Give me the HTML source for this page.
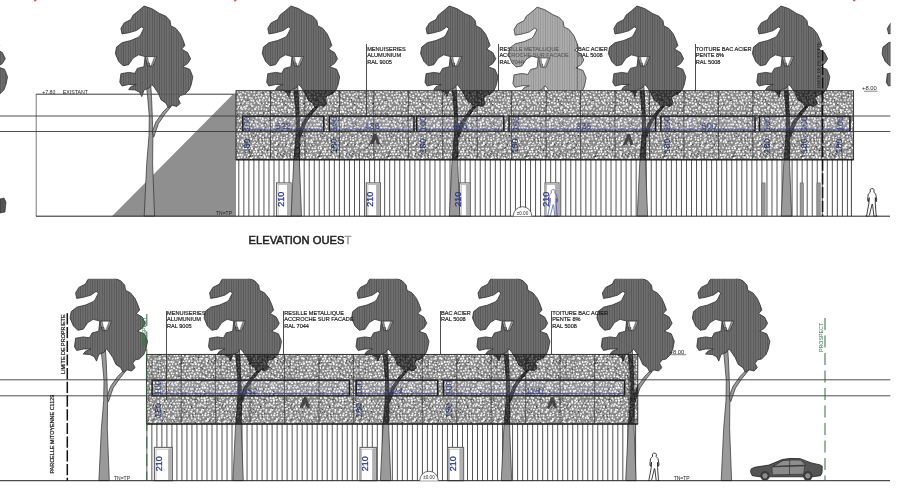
<!DOCTYPE html><html><head><meta charset="utf-8"><title>Elevations</title>
<style>html,body{margin:0;padding:0;background:#fff}body{width:900px;height:500px;overflow:hidden}svg{display:block}text{font-family:"Liberation Sans",sans-serif}</style></head><body>
<svg width="900" height="500" viewBox="0 0 900 500">
<defs>
<pattern id="hd" width="2.4" height="8" patternUnits="userSpaceOnUse"><rect width="2.4" height="8" fill="#6e6e6e"/><rect width="0.8" height="8" fill="#565656"/></pattern>
<pattern id="hl" width="2.4" height="8" patternUnits="userSpaceOnUse"><rect width="2.4" height="8" fill="#acacac"/><rect width="0.8" height="8" fill="#949494"/></pattern>
<pattern id="wall" width="3.85" height="8" patternUnits="userSpaceOnUse"><rect width="3.85" height="8" fill="#fbfbfb"/><rect x="0" width="0.9" height="8" fill="#8a8a8a"/></pattern>
<pattern id="mesh" width="69.0" height="69.0" patternUnits="userSpaceOnUse">
<rect width="69.0" height="69.0" fill="#8a8a8a"/>
<ellipse cx="1.2" cy="0.9" rx="1.14" ry="0.73" transform="rotate(137 1.2 0.9)" fill="#ffffff"/>
<ellipse cx="1.2" cy="69.9" rx="1.14" ry="0.73" transform="rotate(137 1.2 69.9)" fill="#ffffff"/>
<ellipse cx="70.2" cy="0.9" rx="1.14" ry="0.73" transform="rotate(137 70.2 0.9)" fill="#ffffff"/>
<ellipse cx="70.2" cy="69.9" rx="1.14" ry="0.73" transform="rotate(137 70.2 69.9)" fill="#ffffff"/>
<ellipse cx="2.8" cy="3.7" rx="1.08" ry="0.71" transform="rotate(111 2.8 3.7)" fill="#dcdcdc"/>
<ellipse cx="0.7" cy="6.8" rx="1.04" ry="1.03" transform="rotate(31 0.7 6.8)" fill="#ffffff"/>
<ellipse cx="69.7" cy="6.8" rx="1.04" ry="1.03" transform="rotate(31 69.7 6.8)" fill="#ffffff"/>
<ellipse cx="3.2" cy="10.6" rx="0.88" ry="0.93" transform="rotate(12 3.2 10.6)" fill="#ffffff"/>
<ellipse cx="0.7" cy="14.1" rx="0.98" ry="0.76" transform="rotate(30 0.7 14.1)" fill="#f0f0f0"/>
<ellipse cx="69.7" cy="14.1" rx="0.98" ry="0.76" transform="rotate(30 69.7 14.1)" fill="#f0f0f0"/>
<ellipse cx="3.1" cy="16.8" rx="0.90" ry="0.93" transform="rotate(48 3.1 16.8)" fill="#f0f0f0"/>
<ellipse cx="0.8" cy="19.9" rx="1.10" ry="0.95" transform="rotate(127 0.8 19.9)" fill="#dcdcdc"/>
<ellipse cx="69.8" cy="19.9" rx="1.10" ry="0.95" transform="rotate(127 69.8 19.9)" fill="#dcdcdc"/>
<ellipse cx="3.5" cy="22.4" rx="1.27" ry="0.84" transform="rotate(63 3.5 22.4)" fill="#ffffff"/>
<ellipse cx="1.9" cy="25.0" rx="1.11" ry="0.91" transform="rotate(87 1.9 25.0)" fill="#dcdcdc"/>
<ellipse cx="2.6" cy="29.4" rx="0.90" ry="0.87" transform="rotate(87 2.6 29.4)" fill="#ffffff"/>
<ellipse cx="2.3" cy="31.4" rx="1.28" ry="0.73" transform="rotate(142 2.3 31.4)" fill="#f0f0f0"/>
<ellipse cx="2.7" cy="34.2" rx="1.07" ry="1.02" transform="rotate(17 2.7 34.2)" fill="#ffffff"/>
<ellipse cx="2.3" cy="37.5" rx="1.15" ry="0.72" transform="rotate(179 2.3 37.5)" fill="#f0f0f0"/>
<ellipse cx="3.3" cy="41.4" rx="1.22" ry="0.81" transform="rotate(98 3.3 41.4)" fill="#f0f0f0"/>
<ellipse cx="0.6" cy="43.4" rx="0.93" ry="0.75" transform="rotate(15 0.6 43.4)" fill="#ffffff"/>
<ellipse cx="69.6" cy="43.4" rx="0.93" ry="0.75" transform="rotate(15 69.6 43.4)" fill="#ffffff"/>
<ellipse cx="3.5" cy="45.8" rx="0.96" ry="0.86" transform="rotate(127 3.5 45.8)" fill="#ffffff"/>
<ellipse cx="0.9" cy="49.3" rx="0.98" ry="0.75" transform="rotate(110 0.9 49.3)" fill="#f0f0f0"/>
<ellipse cx="69.9" cy="49.3" rx="0.98" ry="0.75" transform="rotate(110 69.9 49.3)" fill="#f0f0f0"/>
<ellipse cx="3.4" cy="53.4" rx="1.16" ry="0.85" transform="rotate(59 3.4 53.4)" fill="#ffffff"/>
<ellipse cx="0.7" cy="54.9" rx="1.15" ry="0.70" transform="rotate(150 0.7 54.9)" fill="#ffffff"/>
<ellipse cx="69.7" cy="54.9" rx="1.15" ry="0.70" transform="rotate(150 69.7 54.9)" fill="#ffffff"/>
<ellipse cx="2.6" cy="57.6" rx="1.04" ry="0.85" transform="rotate(144 2.6 57.6)" fill="#f0f0f0"/>
<ellipse cx="2.3" cy="61.8" rx="1.08" ry="0.95" transform="rotate(173 2.3 61.8)" fill="#ffffff"/>
<ellipse cx="2.9" cy="65.2" rx="1.28" ry="0.97" transform="rotate(143 2.9 65.2)" fill="#dcdcdc"/>
<ellipse cx="1.3" cy="67.3" rx="1.07" ry="0.86" transform="rotate(48 1.3 67.3)" fill="#ffffff"/>
<ellipse cx="70.3" cy="67.3" rx="1.07" ry="0.86" transform="rotate(48 70.3 67.3)" fill="#ffffff"/>
<ellipse cx="5.4" cy="1.4" rx="0.90" ry="0.94" transform="rotate(26 5.4 1.4)" fill="#ffffff"/>
<ellipse cx="5.4" cy="70.4" rx="0.90" ry="0.94" transform="rotate(26 5.4 70.4)" fill="#ffffff"/>
<ellipse cx="6.1" cy="4.6" rx="1.28" ry="0.95" transform="rotate(18 6.1 4.6)" fill="#ffffff"/>
<ellipse cx="4.7" cy="6.9" rx="0.96" ry="0.84" transform="rotate(93 4.7 6.9)" fill="#dcdcdc"/>
<ellipse cx="5.3" cy="11.1" rx="1.30" ry="0.89" transform="rotate(123 5.3 11.1)" fill="#f0f0f0"/>
<ellipse cx="3.8" cy="12.8" rx="1.00" ry="0.81" transform="rotate(177 3.8 12.8)" fill="#ffffff"/>
<ellipse cx="6.0" cy="16.0" rx="1.28" ry="0.84" transform="rotate(176 6.0 16.0)" fill="#ffffff"/>
<ellipse cx="5.0" cy="19.1" rx="1.14" ry="0.74" transform="rotate(66 5.0 19.1)" fill="#f0f0f0"/>
<ellipse cx="6.7" cy="22.2" rx="0.95" ry="0.92" transform="rotate(128 6.7 22.2)" fill="#f0f0f0"/>
<ellipse cx="4.7" cy="25.7" rx="1.20" ry="1.00" transform="rotate(49 4.7 25.7)" fill="#ffffff"/>
<ellipse cx="6.6" cy="28.9" rx="0.95" ry="0.91" transform="rotate(91 6.6 28.9)" fill="#ffffff"/>
<ellipse cx="5.4" cy="32.0" rx="1.06" ry="0.78" transform="rotate(154 5.4 32.0)" fill="#f0f0f0"/>
<ellipse cx="5.9" cy="35.3" rx="1.29" ry="1.08" transform="rotate(93 5.9 35.3)" fill="#ffffff"/>
<ellipse cx="4.0" cy="37.0" rx="0.94" ry="0.78" transform="rotate(159 4.0 37.0)" fill="#ffffff"/>
<ellipse cx="6.0" cy="40.8" rx="1.21" ry="0.73" transform="rotate(169 6.0 40.8)" fill="#ffffff"/>
<ellipse cx="5.2" cy="44.0" rx="1.19" ry="0.89" transform="rotate(45 5.2 44.0)" fill="#dcdcdc"/>
<ellipse cx="6.5" cy="46.2" rx="1.21" ry="1.09" transform="rotate(101 6.5 46.2)" fill="#dcdcdc"/>
<ellipse cx="4.3" cy="50.3" rx="1.18" ry="0.77" transform="rotate(32 4.3 50.3)" fill="#ffffff"/>
<ellipse cx="5.4" cy="53.2" rx="1.21" ry="0.76" transform="rotate(152 5.4 53.2)" fill="#dcdcdc"/>
<ellipse cx="4.8" cy="55.2" rx="1.10" ry="0.75" transform="rotate(3 4.8 55.2)" fill="#ffffff"/>
<ellipse cx="6.0" cy="59.3" rx="1.05" ry="1.05" transform="rotate(54 6.0 59.3)" fill="#ffffff"/>
<ellipse cx="4.1" cy="61.1" rx="0.96" ry="0.93" transform="rotate(66 4.1 61.1)" fill="#dcdcdc"/>
<ellipse cx="6.6" cy="63.7" rx="1.18" ry="1.06" transform="rotate(169 6.6 63.7)" fill="#dcdcdc"/>
<ellipse cx="5.1" cy="68.2" rx="0.91" ry="0.76" transform="rotate(130 5.1 68.2)" fill="#ffffff"/>
<ellipse cx="5.1" cy="-0.8" rx="0.91" ry="0.76" transform="rotate(130 5.1 -0.8)" fill="#ffffff"/>
<ellipse cx="8.2" cy="2.0" rx="1.12" ry="1.01" transform="rotate(38 8.2 2.0)" fill="#ffffff"/>
<ellipse cx="8.4" cy="4.7" rx="0.90" ry="0.72" transform="rotate(174 8.4 4.7)" fill="#dcdcdc"/>
<ellipse cx="8.0" cy="6.8" rx="1.10" ry="0.80" transform="rotate(70 8.0 6.8)" fill="#ffffff"/>
<ellipse cx="9.5" cy="10.5" rx="1.10" ry="1.00" transform="rotate(16 9.5 10.5)" fill="#dcdcdc"/>
<ellipse cx="7.2" cy="14.4" rx="1.12" ry="0.78" transform="rotate(70 7.2 14.4)" fill="#dcdcdc"/>
<ellipse cx="9.0" cy="17.1" rx="1.08" ry="0.80" transform="rotate(133 9.0 17.1)" fill="#f0f0f0"/>
<ellipse cx="8.3" cy="20.2" rx="0.94" ry="0.88" transform="rotate(106 8.3 20.2)" fill="#ffffff"/>
<ellipse cx="8.8" cy="22.2" rx="1.15" ry="0.87" transform="rotate(54 8.8 22.2)" fill="#f0f0f0"/>
<ellipse cx="8.0" cy="26.2" rx="0.92" ry="0.99" transform="rotate(169 8.0 26.2)" fill="#f0f0f0"/>
<ellipse cx="8.4" cy="29.2" rx="1.29" ry="0.79" transform="rotate(24 8.4 29.2)" fill="#dcdcdc"/>
<ellipse cx="8.2" cy="30.9" rx="1.15" ry="0.79" transform="rotate(180 8.2 30.9)" fill="#dcdcdc"/>
<ellipse cx="9.9" cy="34.3" rx="1.04" ry="0.84" transform="rotate(23 9.9 34.3)" fill="#f0f0f0"/>
<ellipse cx="6.6" cy="37.6" rx="1.05" ry="0.71" transform="rotate(84 6.6 37.6)" fill="#f0f0f0"/>
<ellipse cx="9.0" cy="39.7" rx="1.29" ry="1.02" transform="rotate(26 9.0 39.7)" fill="#ffffff"/>
<ellipse cx="7.1" cy="42.7" rx="1.20" ry="0.81" transform="rotate(33 7.1 42.7)" fill="#dcdcdc"/>
<ellipse cx="9.6" cy="46.8" rx="1.28" ry="0.86" transform="rotate(137 9.6 46.8)" fill="#dcdcdc"/>
<ellipse cx="7.9" cy="48.8" rx="0.88" ry="0.98" transform="rotate(108 7.9 48.8)" fill="#ffffff"/>
<ellipse cx="8.6" cy="51.6" rx="0.89" ry="0.80" transform="rotate(155 8.6 51.6)" fill="#ffffff"/>
<ellipse cx="6.7" cy="56.2" rx="1.05" ry="0.84" transform="rotate(141 6.7 56.2)" fill="#dcdcdc"/>
<ellipse cx="9.8" cy="58.1" rx="0.91" ry="0.91" transform="rotate(61 9.8 58.1)" fill="#ffffff"/>
<ellipse cx="8.3" cy="61.1" rx="0.93" ry="1.07" transform="rotate(160 8.3 61.1)" fill="#f0f0f0"/>
<ellipse cx="9.1" cy="64.0" rx="1.05" ry="0.97" transform="rotate(69 9.1 64.0)" fill="#f0f0f0"/>
<ellipse cx="8.0" cy="68.4" rx="0.87" ry="0.71" transform="rotate(129 8.0 68.4)" fill="#ffffff"/>
<ellipse cx="8.0" cy="-0.6" rx="0.87" ry="0.71" transform="rotate(129 8.0 -0.6)" fill="#ffffff"/>
<ellipse cx="10.5" cy="1.0" rx="1.05" ry="0.96" transform="rotate(166 10.5 1.0)" fill="#dcdcdc"/>
<ellipse cx="10.5" cy="70.0" rx="1.05" ry="0.96" transform="rotate(166 10.5 70.0)" fill="#dcdcdc"/>
<ellipse cx="12.3" cy="4.6" rx="1.25" ry="1.09" transform="rotate(78 12.3 4.6)" fill="#ffffff"/>
<ellipse cx="11.4" cy="7.2" rx="1.22" ry="0.98" transform="rotate(162 11.4 7.2)" fill="#ffffff"/>
<ellipse cx="11.8" cy="10.2" rx="0.87" ry="0.75" transform="rotate(18 11.8 10.2)" fill="#f0f0f0"/>
<ellipse cx="10.4" cy="12.7" rx="1.15" ry="0.85" transform="rotate(129 10.4 12.7)" fill="#f0f0f0"/>
<ellipse cx="12.2" cy="16.8" rx="0.87" ry="0.77" transform="rotate(68 12.2 16.8)" fill="#dcdcdc"/>
<ellipse cx="9.6" cy="19.3" rx="1.00" ry="1.09" transform="rotate(82 9.6 19.3)" fill="#ffffff"/>
<ellipse cx="11.2" cy="23.2" rx="0.95" ry="0.77" transform="rotate(85 11.2 23.2)" fill="#dcdcdc"/>
<ellipse cx="9.8" cy="25.1" rx="1.15" ry="0.80" transform="rotate(1 9.8 25.1)" fill="#ffffff"/>
<ellipse cx="11.6" cy="27.8" rx="1.03" ry="0.72" transform="rotate(5 11.6 27.8)" fill="#f0f0f0"/>
<ellipse cx="10.1" cy="31.0" rx="1.11" ry="0.91" transform="rotate(39 10.1 31.0)" fill="#dcdcdc"/>
<ellipse cx="12.5" cy="34.9" rx="1.07" ry="0.81" transform="rotate(158 12.5 34.9)" fill="#ffffff"/>
<ellipse cx="9.7" cy="38.1" rx="1.25" ry="0.95" transform="rotate(179 9.7 38.1)" fill="#ffffff"/>
<ellipse cx="12.7" cy="41.0" rx="1.11" ry="1.03" transform="rotate(4 12.7 41.0)" fill="#ffffff"/>
<ellipse cx="9.8" cy="42.7" rx="1.14" ry="1.08" transform="rotate(96 9.8 42.7)" fill="#dcdcdc"/>
<ellipse cx="12.1" cy="46.7" rx="1.13" ry="0.97" transform="rotate(125 12.1 46.7)" fill="#f0f0f0"/>
<ellipse cx="9.6" cy="50.0" rx="1.19" ry="0.90" transform="rotate(137 9.6 50.0)" fill="#ffffff"/>
<ellipse cx="12.3" cy="51.7" rx="1.18" ry="0.80" transform="rotate(19 12.3 51.7)" fill="#f0f0f0"/>
<ellipse cx="10.0" cy="56.0" rx="0.95" ry="0.96" transform="rotate(117 10.0 56.0)" fill="#dcdcdc"/>
<ellipse cx="12.6" cy="57.7" rx="1.26" ry="0.81" transform="rotate(11 12.6 57.7)" fill="#ffffff"/>
<ellipse cx="9.7" cy="60.9" rx="0.96" ry="1.00" transform="rotate(77 9.7 60.9)" fill="#ffffff"/>
<ellipse cx="11.1" cy="63.7" rx="0.97" ry="0.97" transform="rotate(177 11.1 63.7)" fill="#ffffff"/>
<ellipse cx="10.8" cy="67.1" rx="1.08" ry="0.89" transform="rotate(119 10.8 67.1)" fill="#ffffff"/>
<ellipse cx="14.4" cy="1.6" rx="0.99" ry="0.73" transform="rotate(121 14.4 1.6)" fill="#ffffff"/>
<ellipse cx="14.6" cy="3.7" rx="1.08" ry="1.10" transform="rotate(68 14.6 3.7)" fill="#dcdcdc"/>
<ellipse cx="13.0" cy="8.3" rx="0.94" ry="0.93" transform="rotate(36 13.0 8.3)" fill="#f0f0f0"/>
<ellipse cx="15.8" cy="9.8" rx="1.22" ry="0.90" transform="rotate(28 15.8 9.8)" fill="#f0f0f0"/>
<ellipse cx="13.0" cy="14.2" rx="1.07" ry="0.71" transform="rotate(0 13.0 14.2)" fill="#dcdcdc"/>
<ellipse cx="15.3" cy="16.3" rx="1.18" ry="0.87" transform="rotate(96 15.3 16.3)" fill="#f0f0f0"/>
<ellipse cx="12.8" cy="19.2" rx="1.00" ry="0.84" transform="rotate(101 12.8 19.2)" fill="#ffffff"/>
<ellipse cx="15.8" cy="22.0" rx="0.86" ry="1.00" transform="rotate(64 15.8 22.0)" fill="#f0f0f0"/>
<ellipse cx="12.7" cy="25.3" rx="1.24" ry="0.73" transform="rotate(109 12.7 25.3)" fill="#f0f0f0"/>
<ellipse cx="15.6" cy="28.1" rx="0.87" ry="0.96" transform="rotate(162 15.6 28.1)" fill="#ffffff"/>
<ellipse cx="13.0" cy="31.1" rx="1.08" ry="0.78" transform="rotate(95 13.0 31.1)" fill="#dcdcdc"/>
<ellipse cx="15.7" cy="35.1" rx="1.13" ry="1.07" transform="rotate(141 15.7 35.1)" fill="#ffffff"/>
<ellipse cx="13.9" cy="36.7" rx="1.18" ry="0.88" transform="rotate(35 13.9 36.7)" fill="#f0f0f0"/>
<ellipse cx="15.0" cy="41.2" rx="1.10" ry="0.77" transform="rotate(106 15.0 41.2)" fill="#f0f0f0"/>
<ellipse cx="13.1" cy="43.1" rx="1.18" ry="0.96" transform="rotate(103 13.1 43.1)" fill="#ffffff"/>
<ellipse cx="14.6" cy="46.6" rx="1.03" ry="0.77" transform="rotate(41 14.6 46.6)" fill="#ffffff"/>
<ellipse cx="13.0" cy="50.2" rx="1.07" ry="0.79" transform="rotate(85 13.0 50.2)" fill="#dcdcdc"/>
<ellipse cx="14.9" cy="52.6" rx="0.96" ry="0.77" transform="rotate(142 14.9 52.6)" fill="#ffffff"/>
<ellipse cx="13.2" cy="55.3" rx="1.21" ry="0.78" transform="rotate(5 13.2 55.3)" fill="#dcdcdc"/>
<ellipse cx="14.8" cy="58.9" rx="0.94" ry="0.81" transform="rotate(15 14.8 58.9)" fill="#dcdcdc"/>
<ellipse cx="13.1" cy="62.3" rx="0.91" ry="0.90" transform="rotate(161 13.1 62.3)" fill="#ffffff"/>
<ellipse cx="14.3" cy="65.2" rx="1.02" ry="0.96" transform="rotate(110 14.3 65.2)" fill="#f0f0f0"/>
<ellipse cx="14.1" cy="68.2" rx="0.86" ry="0.71" transform="rotate(121 14.1 68.2)" fill="#dcdcdc"/>
<ellipse cx="14.1" cy="-0.8" rx="0.86" ry="0.71" transform="rotate(121 14.1 -0.8)" fill="#dcdcdc"/>
<ellipse cx="15.6" cy="1.3" rx="1.27" ry="1.03" transform="rotate(119 15.6 1.3)" fill="#dcdcdc"/>
<ellipse cx="15.6" cy="70.3" rx="1.27" ry="1.03" transform="rotate(119 15.6 70.3)" fill="#dcdcdc"/>
<ellipse cx="17.5" cy="3.8" rx="0.92" ry="0.91" transform="rotate(174 17.5 3.8)" fill="#ffffff"/>
<ellipse cx="17.3" cy="7.9" rx="1.14" ry="1.01" transform="rotate(117 17.3 7.9)" fill="#ffffff"/>
<ellipse cx="18.1" cy="9.7" rx="1.20" ry="0.79" transform="rotate(9 18.1 9.7)" fill="#f0f0f0"/>
<ellipse cx="17.3" cy="13.7" rx="1.09" ry="0.87" transform="rotate(28 17.3 13.7)" fill="#ffffff"/>
<ellipse cx="17.2" cy="16.5" rx="1.11" ry="0.86" transform="rotate(57 17.2 16.5)" fill="#ffffff"/>
<ellipse cx="15.6" cy="19.1" rx="1.06" ry="1.08" transform="rotate(165 15.6 19.1)" fill="#ffffff"/>
<ellipse cx="18.0" cy="22.0" rx="0.96" ry="1.08" transform="rotate(180 18.0 22.0)" fill="#f0f0f0"/>
<ellipse cx="15.7" cy="24.9" rx="1.25" ry="0.96" transform="rotate(20 15.7 24.9)" fill="#f0f0f0"/>
<ellipse cx="17.5" cy="28.4" rx="1.02" ry="0.90" transform="rotate(178 17.5 28.4)" fill="#f0f0f0"/>
<ellipse cx="16.9" cy="31.3" rx="1.03" ry="0.70" transform="rotate(74 16.9 31.3)" fill="#ffffff"/>
<ellipse cx="17.5" cy="35.3" rx="0.99" ry="1.03" transform="rotate(59 17.5 35.3)" fill="#dcdcdc"/>
<ellipse cx="16.0" cy="38.0" rx="0.98" ry="1.08" transform="rotate(126 16.0 38.0)" fill="#ffffff"/>
<ellipse cx="18.7" cy="40.5" rx="1.26" ry="0.72" transform="rotate(152 18.7 40.5)" fill="#ffffff"/>
<ellipse cx="17.3" cy="42.7" rx="0.86" ry="0.94" transform="rotate(106 17.3 42.7)" fill="#ffffff"/>
<ellipse cx="18.4" cy="45.9" rx="1.05" ry="0.98" transform="rotate(80 18.4 45.9)" fill="#ffffff"/>
<ellipse cx="17.4" cy="50.3" rx="1.00" ry="0.77" transform="rotate(134 17.4 50.3)" fill="#dcdcdc"/>
<ellipse cx="17.2" cy="52.8" rx="1.02" ry="0.85" transform="rotate(84 17.2 52.8)" fill="#dcdcdc"/>
<ellipse cx="15.9" cy="54.6" rx="0.98" ry="0.84" transform="rotate(31 15.9 54.6)" fill="#ffffff"/>
<ellipse cx="17.8" cy="59.0" rx="0.99" ry="1.02" transform="rotate(22 17.8 59.0)" fill="#ffffff"/>
<ellipse cx="16.9" cy="61.0" rx="1.09" ry="0.88" transform="rotate(82 16.9 61.0)" fill="#f0f0f0"/>
<ellipse cx="18.4" cy="64.5" rx="1.13" ry="0.80" transform="rotate(160 18.4 64.5)" fill="#dcdcdc"/>
<ellipse cx="15.7" cy="66.7" rx="0.88" ry="1.07" transform="rotate(65 15.7 66.7)" fill="#ffffff"/>
<ellipse cx="19.9" cy="2.2" rx="1.00" ry="0.81" transform="rotate(157 19.9 2.2)" fill="#ffffff"/>
<ellipse cx="20.6" cy="4.9" rx="0.99" ry="0.81" transform="rotate(0 20.6 4.9)" fill="#ffffff"/>
<ellipse cx="18.6" cy="7.0" rx="1.06" ry="1.08" transform="rotate(98 18.6 7.0)" fill="#f0f0f0"/>
<ellipse cx="21.7" cy="11.1" rx="0.91" ry="0.90" transform="rotate(2 21.7 11.1)" fill="#f0f0f0"/>
<ellipse cx="20.1" cy="14.0" rx="1.12" ry="0.83" transform="rotate(81 20.1 14.0)" fill="#dcdcdc"/>
<ellipse cx="20.8" cy="17.0" rx="0.89" ry="0.78" transform="rotate(40 20.8 17.0)" fill="#ffffff"/>
<ellipse cx="19.3" cy="19.8" rx="1.07" ry="0.92" transform="rotate(41 19.3 19.8)" fill="#dcdcdc"/>
<ellipse cx="21.7" cy="23.4" rx="0.97" ry="0.73" transform="rotate(24 21.7 23.4)" fill="#dcdcdc"/>
<ellipse cx="19.5" cy="25.9" rx="1.05" ry="0.79" transform="rotate(106 19.5 25.9)" fill="#dcdcdc"/>
<ellipse cx="21.2" cy="28.8" rx="1.19" ry="1.04" transform="rotate(170 21.2 28.8)" fill="#ffffff"/>
<ellipse cx="20.0" cy="31.1" rx="0.98" ry="0.81" transform="rotate(65 20.0 31.1)" fill="#f0f0f0"/>
<ellipse cx="20.5" cy="34.0" rx="0.96" ry="0.76" transform="rotate(148 20.5 34.0)" fill="#ffffff"/>
<ellipse cx="19.2" cy="37.3" rx="1.30" ry="0.90" transform="rotate(59 19.2 37.3)" fill="#ffffff"/>
<ellipse cx="21.3" cy="41.4" rx="0.90" ry="0.89" transform="rotate(59 21.3 41.4)" fill="#dcdcdc"/>
<ellipse cx="20.2" cy="42.7" rx="0.98" ry="0.75" transform="rotate(48 20.2 42.7)" fill="#ffffff"/>
<ellipse cx="21.8" cy="46.3" rx="1.24" ry="0.88" transform="rotate(66 21.8 46.3)" fill="#ffffff"/>
<ellipse cx="18.8" cy="49.7" rx="1.13" ry="0.79" transform="rotate(94 18.8 49.7)" fill="#f0f0f0"/>
<ellipse cx="20.4" cy="52.0" rx="0.96" ry="0.94" transform="rotate(166 20.4 52.0)" fill="#ffffff"/>
<ellipse cx="20.1" cy="56.1" rx="1.03" ry="0.85" transform="rotate(158 20.1 56.1)" fill="#f0f0f0"/>
<ellipse cx="20.2" cy="57.7" rx="1.07" ry="0.89" transform="rotate(104 20.2 57.7)" fill="#ffffff"/>
<ellipse cx="20.0" cy="61.8" rx="0.92" ry="0.91" transform="rotate(167 20.0 61.8)" fill="#ffffff"/>
<ellipse cx="20.8" cy="64.1" rx="1.29" ry="0.97" transform="rotate(106 20.8 64.1)" fill="#ffffff"/>
<ellipse cx="19.2" cy="67.6" rx="1.01" ry="0.87" transform="rotate(93 19.2 67.6)" fill="#ffffff"/>
<ellipse cx="19.2" cy="-1.4" rx="1.01" ry="0.87" transform="rotate(93 19.2 -1.4)" fill="#ffffff"/>
<ellipse cx="22.3" cy="1.3" rx="1.27" ry="0.87" transform="rotate(40 22.3 1.3)" fill="#dcdcdc"/>
<ellipse cx="22.3" cy="70.3" rx="1.27" ry="0.87" transform="rotate(40 22.3 70.3)" fill="#dcdcdc"/>
<ellipse cx="23.3" cy="3.8" rx="1.11" ry="0.85" transform="rotate(41 23.3 3.8)" fill="#ffffff"/>
<ellipse cx="21.6" cy="7.6" rx="1.14" ry="1.06" transform="rotate(22 21.6 7.6)" fill="#f0f0f0"/>
<ellipse cx="24.4" cy="9.9" rx="1.01" ry="0.76" transform="rotate(43 24.4 9.9)" fill="#ffffff"/>
<ellipse cx="21.8" cy="13.5" rx="1.21" ry="1.09" transform="rotate(50 21.8 13.5)" fill="#f0f0f0"/>
<ellipse cx="23.3" cy="17.3" rx="1.29" ry="0.89" transform="rotate(13 23.3 17.3)" fill="#dcdcdc"/>
<ellipse cx="21.8" cy="19.9" rx="1.16" ry="1.06" transform="rotate(163 21.8 19.9)" fill="#ffffff"/>
<ellipse cx="24.2" cy="22.7" rx="0.94" ry="0.89" transform="rotate(144 24.2 22.7)" fill="#ffffff"/>
<ellipse cx="21.7" cy="26.3" rx="0.92" ry="0.84" transform="rotate(38 21.7 26.3)" fill="#ffffff"/>
<ellipse cx="24.8" cy="29.1" rx="0.94" ry="1.05" transform="rotate(172 24.8 29.1)" fill="#ffffff"/>
<ellipse cx="22.8" cy="31.2" rx="1.03" ry="0.88" transform="rotate(160 22.8 31.2)" fill="#f0f0f0"/>
<ellipse cx="24.3" cy="34.2" rx="0.96" ry="0.86" transform="rotate(94 24.3 34.2)" fill="#dcdcdc"/>
<ellipse cx="22.5" cy="36.9" rx="0.85" ry="1.09" transform="rotate(119 22.5 36.9)" fill="#ffffff"/>
<ellipse cx="23.9" cy="40.7" rx="1.22" ry="1.03" transform="rotate(121 23.9 40.7)" fill="#dcdcdc"/>
<ellipse cx="21.8" cy="42.8" rx="1.04" ry="0.74" transform="rotate(113 21.8 42.8)" fill="#ffffff"/>
<ellipse cx="23.2" cy="45.8" rx="1.26" ry="0.83" transform="rotate(130 23.2 45.8)" fill="#ffffff"/>
<ellipse cx="21.7" cy="49.5" rx="1.02" ry="1.08" transform="rotate(34 21.7 49.5)" fill="#ffffff"/>
<ellipse cx="24.6" cy="53.4" rx="1.18" ry="1.03" transform="rotate(49 24.6 53.4)" fill="#ffffff"/>
<ellipse cx="23.4" cy="55.5" rx="1.28" ry="1.07" transform="rotate(42 23.4 55.5)" fill="#ffffff"/>
<ellipse cx="23.2" cy="58.2" rx="1.19" ry="0.76" transform="rotate(157 23.2 58.2)" fill="#f0f0f0"/>
<ellipse cx="23.2" cy="61.4" rx="0.96" ry="1.09" transform="rotate(122 23.2 61.4)" fill="#ffffff"/>
<ellipse cx="24.2" cy="64.7" rx="0.96" ry="0.85" transform="rotate(50 24.2 64.7)" fill="#ffffff"/>
<ellipse cx="22.3" cy="67.7" rx="0.98" ry="0.83" transform="rotate(96 22.3 67.7)" fill="#ffffff"/>
<ellipse cx="22.3" cy="-1.3" rx="0.98" ry="0.83" transform="rotate(96 22.3 -1.3)" fill="#ffffff"/>
<ellipse cx="26.0" cy="1.1" rx="1.20" ry="0.72" transform="rotate(92 26.0 1.1)" fill="#dcdcdc"/>
<ellipse cx="26.0" cy="70.1" rx="1.20" ry="0.72" transform="rotate(92 26.0 70.1)" fill="#dcdcdc"/>
<ellipse cx="27.1" cy="4.6" rx="1.25" ry="0.74" transform="rotate(137 27.1 4.6)" fill="#dcdcdc"/>
<ellipse cx="25.9" cy="7.3" rx="1.02" ry="0.85" transform="rotate(37 25.9 7.3)" fill="#f0f0f0"/>
<ellipse cx="26.7" cy="9.7" rx="0.95" ry="0.95" transform="rotate(12 26.7 9.7)" fill="#f0f0f0"/>
<ellipse cx="26.1" cy="13.1" rx="1.14" ry="1.09" transform="rotate(149 26.1 13.1)" fill="#f0f0f0"/>
<ellipse cx="27.4" cy="16.9" rx="0.95" ry="0.82" transform="rotate(160 27.4 16.9)" fill="#dcdcdc"/>
<ellipse cx="25.4" cy="19.3" rx="0.87" ry="0.90" transform="rotate(156 25.4 19.3)" fill="#ffffff"/>
<ellipse cx="26.1" cy="21.6" rx="1.01" ry="0.74" transform="rotate(91 26.1 21.6)" fill="#ffffff"/>
<ellipse cx="25.3" cy="25.1" rx="0.91" ry="0.85" transform="rotate(121 25.3 25.1)" fill="#ffffff"/>
<ellipse cx="26.3" cy="29.3" rx="0.96" ry="0.76" transform="rotate(24 26.3 29.3)" fill="#ffffff"/>
<ellipse cx="25.7" cy="32.2" rx="1.20" ry="0.86" transform="rotate(67 25.7 32.2)" fill="#ffffff"/>
<ellipse cx="26.2" cy="35.1" rx="1.25" ry="0.94" transform="rotate(148 26.2 35.1)" fill="#dcdcdc"/>
<ellipse cx="25.7" cy="37.5" rx="1.07" ry="0.77" transform="rotate(0 25.7 37.5)" fill="#ffffff"/>
<ellipse cx="26.2" cy="39.6" rx="0.93" ry="0.76" transform="rotate(26 26.2 39.6)" fill="#ffffff"/>
<ellipse cx="25.7" cy="43.8" rx="0.94" ry="0.87" transform="rotate(132 25.7 43.8)" fill="#dcdcdc"/>
<ellipse cx="27.6" cy="45.9" rx="0.99" ry="0.82" transform="rotate(12 27.6 45.9)" fill="#dcdcdc"/>
<ellipse cx="25.9" cy="48.6" rx="1.23" ry="1.00" transform="rotate(119 25.9 48.6)" fill="#ffffff"/>
<ellipse cx="27.4" cy="52.4" rx="0.95" ry="0.74" transform="rotate(59 27.4 52.4)" fill="#ffffff"/>
<ellipse cx="24.8" cy="56.2" rx="1.27" ry="1.08" transform="rotate(67 24.8 56.2)" fill="#ffffff"/>
<ellipse cx="26.6" cy="58.6" rx="1.05" ry="1.02" transform="rotate(133 26.6 58.6)" fill="#f0f0f0"/>
<ellipse cx="25.1" cy="62.3" rx="1.25" ry="0.73" transform="rotate(129 25.1 62.3)" fill="#ffffff"/>
<ellipse cx="26.4" cy="65.2" rx="1.23" ry="0.78" transform="rotate(40 26.4 65.2)" fill="#f0f0f0"/>
<ellipse cx="24.9" cy="67.3" rx="1.12" ry="0.85" transform="rotate(161 24.9 67.3)" fill="#dcdcdc"/>
<ellipse cx="28.4" cy="1.6" rx="0.85" ry="0.71" transform="rotate(59 28.4 1.6)" fill="#f0f0f0"/>
<ellipse cx="30.5" cy="4.3" rx="1.11" ry="0.93" transform="rotate(43 30.5 4.3)" fill="#ffffff"/>
<ellipse cx="27.7" cy="6.8" rx="1.13" ry="0.76" transform="rotate(36 27.7 6.8)" fill="#ffffff"/>
<ellipse cx="29.2" cy="9.8" rx="1.14" ry="0.72" transform="rotate(17 29.2 9.8)" fill="#ffffff"/>
<ellipse cx="27.7" cy="13.7" rx="1.01" ry="1.03" transform="rotate(136 27.7 13.7)" fill="#ffffff"/>
<ellipse cx="30.7" cy="17.0" rx="1.17" ry="0.85" transform="rotate(63 30.7 17.0)" fill="#ffffff"/>
<ellipse cx="28.0" cy="18.7" rx="1.28" ry="1.06" transform="rotate(162 28.0 18.7)" fill="#ffffff"/>
<ellipse cx="30.6" cy="22.7" rx="0.98" ry="0.74" transform="rotate(25 30.6 22.7)" fill="#ffffff"/>
<ellipse cx="28.1" cy="25.2" rx="0.97" ry="0.84" transform="rotate(72 28.1 25.2)" fill="#ffffff"/>
<ellipse cx="30.4" cy="28.3" rx="0.99" ry="1.09" transform="rotate(128 30.4 28.3)" fill="#dcdcdc"/>
<ellipse cx="29.1" cy="31.7" rx="0.86" ry="0.87" transform="rotate(111 29.1 31.7)" fill="#ffffff"/>
<ellipse cx="29.7" cy="34.9" rx="1.09" ry="0.79" transform="rotate(23 29.7 34.9)" fill="#f0f0f0"/>
<ellipse cx="27.9" cy="36.6" rx="0.94" ry="1.00" transform="rotate(13 27.9 36.6)" fill="#ffffff"/>
<ellipse cx="29.7" cy="39.8" rx="1.16" ry="1.03" transform="rotate(126 29.7 39.8)" fill="#f0f0f0"/>
<ellipse cx="29.3" cy="43.5" rx="1.11" ry="0.76" transform="rotate(54 29.3 43.5)" fill="#ffffff"/>
<ellipse cx="30.0" cy="45.8" rx="1.14" ry="0.73" transform="rotate(178 30.0 45.8)" fill="#ffffff"/>
<ellipse cx="28.7" cy="49.2" rx="1.03" ry="0.86" transform="rotate(22 28.7 49.2)" fill="#dcdcdc"/>
<ellipse cx="30.7" cy="51.6" rx="0.94" ry="0.81" transform="rotate(139 30.7 51.6)" fill="#ffffff"/>
<ellipse cx="28.3" cy="56.2" rx="0.96" ry="0.88" transform="rotate(136 28.3 56.2)" fill="#ffffff"/>
<ellipse cx="29.7" cy="58.2" rx="0.92" ry="1.04" transform="rotate(169 29.7 58.2)" fill="#f0f0f0"/>
<ellipse cx="27.9" cy="61.4" rx="1.20" ry="0.93" transform="rotate(32 27.9 61.4)" fill="#f0f0f0"/>
<ellipse cx="29.9" cy="65.2" rx="0.96" ry="0.78" transform="rotate(77 29.9 65.2)" fill="#ffffff"/>
<ellipse cx="28.9" cy="68.4" rx="1.18" ry="0.94" transform="rotate(89 28.9 68.4)" fill="#ffffff"/>
<ellipse cx="28.9" cy="-0.6" rx="1.18" ry="0.94" transform="rotate(89 28.9 -0.6)" fill="#ffffff"/>
<ellipse cx="31.0" cy="2.3" rx="0.97" ry="1.08" transform="rotate(26 31.0 2.3)" fill="#ffffff"/>
<ellipse cx="33.8" cy="3.8" rx="1.02" ry="1.09" transform="rotate(77 33.8 3.8)" fill="#f0f0f0"/>
<ellipse cx="31.4" cy="7.0" rx="1.14" ry="0.74" transform="rotate(52 31.4 7.0)" fill="#dcdcdc"/>
<ellipse cx="32.9" cy="9.6" rx="1.23" ry="0.87" transform="rotate(56 32.9 9.6)" fill="#f0f0f0"/>
<ellipse cx="31.4" cy="12.9" rx="1.12" ry="0.86" transform="rotate(62 31.4 12.9)" fill="#dcdcdc"/>
<ellipse cx="33.4" cy="16.7" rx="1.14" ry="1.04" transform="rotate(170 33.4 16.7)" fill="#ffffff"/>
<ellipse cx="31.8" cy="19.8" rx="1.05" ry="0.83" transform="rotate(160 31.8 19.8)" fill="#ffffff"/>
<ellipse cx="33.7" cy="22.0" rx="1.03" ry="0.99" transform="rotate(40 33.7 22.0)" fill="#f0f0f0"/>
<ellipse cx="32.1" cy="25.5" rx="0.86" ry="1.04" transform="rotate(132 32.1 25.5)" fill="#ffffff"/>
<ellipse cx="33.7" cy="28.2" rx="0.85" ry="1.03" transform="rotate(27 33.7 28.2)" fill="#ffffff"/>
<ellipse cx="31.1" cy="31.0" rx="1.17" ry="1.08" transform="rotate(51 31.1 31.0)" fill="#f0f0f0"/>
<ellipse cx="32.3" cy="34.6" rx="1.09" ry="0.99" transform="rotate(131 32.3 34.6)" fill="#ffffff"/>
<ellipse cx="31.8" cy="38.1" rx="1.08" ry="0.86" transform="rotate(116 31.8 38.1)" fill="#ffffff"/>
<ellipse cx="33.9" cy="39.9" rx="1.08" ry="1.07" transform="rotate(157 33.9 39.9)" fill="#f0f0f0"/>
<ellipse cx="31.7" cy="43.1" rx="1.02" ry="0.72" transform="rotate(19 31.7 43.1)" fill="#dcdcdc"/>
<ellipse cx="33.7" cy="46.7" rx="1.15" ry="0.93" transform="rotate(27 33.7 46.7)" fill="#ffffff"/>
<ellipse cx="31.1" cy="49.3" rx="1.28" ry="1.09" transform="rotate(100 31.1 49.3)" fill="#dcdcdc"/>
<ellipse cx="32.5" cy="51.8" rx="1.20" ry="1.02" transform="rotate(162 32.5 51.8)" fill="#ffffff"/>
<ellipse cx="31.4" cy="55.6" rx="0.95" ry="1.09" transform="rotate(90 31.4 55.6)" fill="#dcdcdc"/>
<ellipse cx="32.9" cy="58.1" rx="1.10" ry="0.75" transform="rotate(120 32.9 58.1)" fill="#f0f0f0"/>
<ellipse cx="32.0" cy="61.0" rx="1.17" ry="0.97" transform="rotate(109 32.0 61.0)" fill="#ffffff"/>
<ellipse cx="33.0" cy="65.0" rx="1.21" ry="0.84" transform="rotate(167 33.0 65.0)" fill="#f0f0f0"/>
<ellipse cx="31.2" cy="67.5" rx="1.13" ry="0.73" transform="rotate(92 31.2 67.5)" fill="#ffffff"/>
<ellipse cx="35.3" cy="2.1" rx="0.88" ry="1.03" transform="rotate(83 35.3 2.1)" fill="#ffffff"/>
<ellipse cx="36.1" cy="4.2" rx="1.11" ry="0.96" transform="rotate(53 36.1 4.2)" fill="#ffffff"/>
<ellipse cx="34.8" cy="7.1" rx="0.90" ry="0.76" transform="rotate(59 34.8 7.1)" fill="#ffffff"/>
<ellipse cx="36.5" cy="10.2" rx="0.92" ry="1.06" transform="rotate(136 36.5 10.2)" fill="#ffffff"/>
<ellipse cx="34.7" cy="13.8" rx="1.29" ry="0.74" transform="rotate(140 34.7 13.8)" fill="#f0f0f0"/>
<ellipse cx="35.5" cy="16.8" rx="1.09" ry="1.00" transform="rotate(112 35.5 16.8)" fill="#ffffff"/>
<ellipse cx="34.6" cy="19.1" rx="0.96" ry="0.76" transform="rotate(126 34.6 19.1)" fill="#ffffff"/>
<ellipse cx="36.0" cy="23.2" rx="1.17" ry="0.80" transform="rotate(42 36.0 23.2)" fill="#ffffff"/>
<ellipse cx="33.9" cy="25.2" rx="1.16" ry="0.90" transform="rotate(75 33.9 25.2)" fill="#dcdcdc"/>
<ellipse cx="35.8" cy="28.4" rx="1.28" ry="0.73" transform="rotate(163 35.8 28.4)" fill="#f0f0f0"/>
<ellipse cx="34.7" cy="30.7" rx="1.12" ry="0.97" transform="rotate(84 34.7 30.7)" fill="#ffffff"/>
<ellipse cx="36.0" cy="34.5" rx="1.25" ry="0.71" transform="rotate(106 36.0 34.5)" fill="#ffffff"/>
<ellipse cx="34.2" cy="38.2" rx="1.01" ry="0.89" transform="rotate(134 34.2 38.2)" fill="#ffffff"/>
<ellipse cx="35.6" cy="40.2" rx="0.96" ry="0.72" transform="rotate(74 35.6 40.2)" fill="#f0f0f0"/>
<ellipse cx="34.2" cy="43.5" rx="1.00" ry="1.09" transform="rotate(129 34.2 43.5)" fill="#f0f0f0"/>
<ellipse cx="36.9" cy="46.8" rx="1.21" ry="0.83" transform="rotate(81 36.9 46.8)" fill="#f0f0f0"/>
<ellipse cx="33.8" cy="50.4" rx="0.89" ry="1.10" transform="rotate(102 33.8 50.4)" fill="#dcdcdc"/>
<ellipse cx="36.1" cy="51.7" rx="0.99" ry="0.70" transform="rotate(48 36.1 51.7)" fill="#dcdcdc"/>
<ellipse cx="34.7" cy="55.8" rx="1.21" ry="1.06" transform="rotate(156 34.7 55.8)" fill="#dcdcdc"/>
<ellipse cx="36.2" cy="58.7" rx="1.16" ry="0.94" transform="rotate(174 36.2 58.7)" fill="#ffffff"/>
<ellipse cx="34.0" cy="61.8" rx="1.06" ry="1.01" transform="rotate(25 34.0 61.8)" fill="#ffffff"/>
<ellipse cx="36.7" cy="64.4" rx="0.90" ry="1.07" transform="rotate(3 36.7 64.4)" fill="#f0f0f0"/>
<ellipse cx="35.2" cy="66.8" rx="0.99" ry="0.98" transform="rotate(77 35.2 66.8)" fill="#ffffff"/>
<ellipse cx="37.4" cy="1.2" rx="1.04" ry="0.96" transform="rotate(13 37.4 1.2)" fill="#dcdcdc"/>
<ellipse cx="37.4" cy="70.2" rx="1.04" ry="0.96" transform="rotate(13 37.4 70.2)" fill="#dcdcdc"/>
<ellipse cx="39.1" cy="3.7" rx="0.90" ry="1.02" transform="rotate(147 39.1 3.7)" fill="#dcdcdc"/>
<ellipse cx="37.4" cy="6.6" rx="1.02" ry="0.94" transform="rotate(168 37.4 6.6)" fill="#ffffff"/>
<ellipse cx="39.0" cy="10.3" rx="0.90" ry="0.96" transform="rotate(54 39.0 10.3)" fill="#ffffff"/>
<ellipse cx="37.7" cy="13.4" rx="0.85" ry="0.97" transform="rotate(22 37.7 13.4)" fill="#ffffff"/>
<ellipse cx="39.7" cy="15.8" rx="0.86" ry="0.99" transform="rotate(62 39.7 15.8)" fill="#dcdcdc"/>
<ellipse cx="37.9" cy="18.9" rx="0.87" ry="1.01" transform="rotate(177 37.9 18.9)" fill="#ffffff"/>
<ellipse cx="39.4" cy="21.8" rx="1.13" ry="0.98" transform="rotate(117 39.4 21.8)" fill="#f0f0f0"/>
<ellipse cx="38.2" cy="24.7" rx="0.86" ry="0.72" transform="rotate(166 38.2 24.7)" fill="#ffffff"/>
<ellipse cx="38.8" cy="28.2" rx="1.12" ry="1.08" transform="rotate(124 38.8 28.2)" fill="#ffffff"/>
<ellipse cx="37.2" cy="32.3" rx="1.18" ry="0.89" transform="rotate(42 37.2 32.3)" fill="#ffffff"/>
<ellipse cx="39.8" cy="33.8" rx="1.28" ry="0.77" transform="rotate(106 39.8 33.8)" fill="#dcdcdc"/>
<ellipse cx="37.3" cy="38.0" rx="1.28" ry="1.01" transform="rotate(145 37.3 38.0)" fill="#f0f0f0"/>
<ellipse cx="38.6" cy="39.7" rx="1.29" ry="0.98" transform="rotate(153 38.6 39.7)" fill="#f0f0f0"/>
<ellipse cx="38.2" cy="43.9" rx="0.86" ry="0.76" transform="rotate(79 38.2 43.9)" fill="#dcdcdc"/>
<ellipse cx="39.9" cy="46.0" rx="1.02" ry="0.85" transform="rotate(59 39.9 46.0)" fill="#dcdcdc"/>
<ellipse cx="37.1" cy="48.6" rx="0.97" ry="0.87" transform="rotate(150 37.1 48.6)" fill="#ffffff"/>
<ellipse cx="38.6" cy="51.9" rx="1.25" ry="1.10" transform="rotate(37 38.6 51.9)" fill="#f0f0f0"/>
<ellipse cx="38.4" cy="56.0" rx="1.10" ry="1.01" transform="rotate(127 38.4 56.0)" fill="#f0f0f0"/>
<ellipse cx="39.1" cy="58.6" rx="1.07" ry="0.85" transform="rotate(59 39.1 58.6)" fill="#f0f0f0"/>
<ellipse cx="37.7" cy="61.8" rx="1.06" ry="0.78" transform="rotate(65 37.7 61.8)" fill="#ffffff"/>
<ellipse cx="39.5" cy="64.4" rx="0.89" ry="1.02" transform="rotate(16 39.5 64.4)" fill="#ffffff"/>
<ellipse cx="37.3" cy="67.5" rx="0.97" ry="1.03" transform="rotate(82 37.3 67.5)" fill="#dcdcdc"/>
<ellipse cx="37.3" cy="-1.5" rx="0.97" ry="1.03" transform="rotate(82 37.3 -1.5)" fill="#dcdcdc"/>
<ellipse cx="40.5" cy="1.0" rx="0.95" ry="0.74" transform="rotate(179 40.5 1.0)" fill="#f0f0f0"/>
<ellipse cx="40.5" cy="70.0" rx="0.95" ry="0.74" transform="rotate(179 40.5 70.0)" fill="#f0f0f0"/>
<ellipse cx="41.8" cy="4.6" rx="1.03" ry="0.91" transform="rotate(38 41.8 4.6)" fill="#ffffff"/>
<ellipse cx="39.7" cy="8.4" rx="1.02" ry="0.74" transform="rotate(161 39.7 8.4)" fill="#dcdcdc"/>
<ellipse cx="42.5" cy="9.9" rx="1.12" ry="0.84" transform="rotate(132 42.5 9.9)" fill="#ffffff"/>
<ellipse cx="39.8" cy="13.0" rx="1.24" ry="0.93" transform="rotate(150 39.8 13.0)" fill="#ffffff"/>
<ellipse cx="41.6" cy="17.0" rx="1.04" ry="1.08" transform="rotate(151 41.6 17.0)" fill="#ffffff"/>
<ellipse cx="40.1" cy="18.7" rx="0.94" ry="0.77" transform="rotate(21 40.1 18.7)" fill="#ffffff"/>
<ellipse cx="41.2" cy="22.6" rx="1.24" ry="0.88" transform="rotate(16 41.2 22.6)" fill="#dcdcdc"/>
<ellipse cx="41.3" cy="25.9" rx="0.89" ry="0.83" transform="rotate(59 41.3 25.9)" fill="#ffffff"/>
<ellipse cx="42.8" cy="28.8" rx="1.03" ry="0.88" transform="rotate(40 42.8 28.8)" fill="#f0f0f0"/>
<ellipse cx="41.3" cy="32.4" rx="0.95" ry="0.72" transform="rotate(65 41.3 32.4)" fill="#f0f0f0"/>
<ellipse cx="41.2" cy="34.6" rx="0.86" ry="1.07" transform="rotate(66 41.2 34.6)" fill="#dcdcdc"/>
<ellipse cx="39.7" cy="36.9" rx="1.19" ry="1.08" transform="rotate(173 39.7 36.9)" fill="#f0f0f0"/>
<ellipse cx="42.2" cy="40.4" rx="1.14" ry="0.89" transform="rotate(95 42.2 40.4)" fill="#f0f0f0"/>
<ellipse cx="40.3" cy="43.3" rx="1.02" ry="0.88" transform="rotate(36 40.3 43.3)" fill="#ffffff"/>
<ellipse cx="41.9" cy="47.2" rx="1.21" ry="0.76" transform="rotate(56 41.9 47.2)" fill="#ffffff"/>
<ellipse cx="41.3" cy="50.2" rx="1.25" ry="0.76" transform="rotate(114 41.3 50.2)" fill="#ffffff"/>
<ellipse cx="42.8" cy="52.3" rx="0.86" ry="0.73" transform="rotate(86 42.8 52.3)" fill="#f0f0f0"/>
<ellipse cx="41.1" cy="55.5" rx="1.13" ry="0.76" transform="rotate(56 41.1 55.5)" fill="#ffffff"/>
<ellipse cx="41.4" cy="58.4" rx="1.25" ry="0.88" transform="rotate(38 41.4 58.4)" fill="#f0f0f0"/>
<ellipse cx="40.4" cy="61.0" rx="0.86" ry="0.93" transform="rotate(75 40.4 61.0)" fill="#f0f0f0"/>
<ellipse cx="42.5" cy="64.1" rx="0.90" ry="0.88" transform="rotate(123 42.5 64.1)" fill="#ffffff"/>
<ellipse cx="39.9" cy="67.5" rx="1.13" ry="1.02" transform="rotate(54 39.9 67.5)" fill="#dcdcdc"/>
<ellipse cx="39.9" cy="-1.5" rx="1.13" ry="1.02" transform="rotate(54 39.9 -1.5)" fill="#dcdcdc"/>
<ellipse cx="44.1" cy="0.8" rx="1.19" ry="1.09" transform="rotate(110 44.1 0.8)" fill="#f0f0f0"/>
<ellipse cx="44.1" cy="69.8" rx="1.19" ry="1.09" transform="rotate(110 44.1 69.8)" fill="#f0f0f0"/>
<ellipse cx="45.9" cy="5.3" rx="0.89" ry="0.82" transform="rotate(41 45.9 5.3)" fill="#ffffff"/>
<ellipse cx="44.1" cy="8.4" rx="0.91" ry="0.96" transform="rotate(113 44.1 8.4)" fill="#f0f0f0"/>
<ellipse cx="45.0" cy="10.4" rx="1.21" ry="1.08" transform="rotate(73 45.0 10.4)" fill="#ffffff"/>
<ellipse cx="43.2" cy="12.7" rx="1.03" ry="0.81" transform="rotate(46 43.2 12.7)" fill="#ffffff"/>
<ellipse cx="45.6" cy="16.5" rx="0.95" ry="0.77" transform="rotate(153 45.6 16.5)" fill="#ffffff"/>
<ellipse cx="44.1" cy="20.2" rx="1.18" ry="1.00" transform="rotate(44 44.1 20.2)" fill="#ffffff"/>
<ellipse cx="44.3" cy="22.8" rx="1.13" ry="0.78" transform="rotate(78 44.3 22.8)" fill="#ffffff"/>
<ellipse cx="42.6" cy="25.8" rx="1.08" ry="1.04" transform="rotate(14 42.6 25.8)" fill="#f0f0f0"/>
<ellipse cx="44.7" cy="29.1" rx="1.24" ry="0.90" transform="rotate(3 44.7 29.1)" fill="#dcdcdc"/>
<ellipse cx="44.2" cy="31.5" rx="1.24" ry="0.81" transform="rotate(47 44.2 31.5)" fill="#f0f0f0"/>
<ellipse cx="44.2" cy="34.9" rx="1.11" ry="1.04" transform="rotate(91 44.2 34.9)" fill="#dcdcdc"/>
<ellipse cx="44.3" cy="36.7" rx="1.01" ry="0.80" transform="rotate(82 44.3 36.7)" fill="#dcdcdc"/>
<ellipse cx="45.1" cy="41.2" rx="0.98" ry="0.74" transform="rotate(126 45.1 41.2)" fill="#dcdcdc"/>
<ellipse cx="43.5" cy="43.6" rx="1.09" ry="0.71" transform="rotate(22 43.5 43.6)" fill="#ffffff"/>
<ellipse cx="45.2" cy="45.9" rx="0.99" ry="0.92" transform="rotate(7 45.2 45.9)" fill="#ffffff"/>
<ellipse cx="42.8" cy="49.9" rx="0.94" ry="0.71" transform="rotate(153 42.8 49.9)" fill="#dcdcdc"/>
<ellipse cx="45.0" cy="52.9" rx="0.90" ry="1.05" transform="rotate(45 45.0 52.9)" fill="#ffffff"/>
<ellipse cx="43.1" cy="55.4" rx="1.11" ry="1.00" transform="rotate(28 43.1 55.4)" fill="#ffffff"/>
<ellipse cx="44.3" cy="59.2" rx="1.09" ry="0.79" transform="rotate(58 44.3 59.2)" fill="#ffffff"/>
<ellipse cx="43.8" cy="61.4" rx="1.03" ry="1.08" transform="rotate(4 43.8 61.4)" fill="#dcdcdc"/>
<ellipse cx="45.3" cy="64.7" rx="1.12" ry="0.71" transform="rotate(13 45.3 64.7)" fill="#f0f0f0"/>
<ellipse cx="43.2" cy="67.0" rx="1.00" ry="0.87" transform="rotate(144 43.2 67.0)" fill="#f0f0f0"/>
<ellipse cx="47.1" cy="2.1" rx="0.87" ry="0.91" transform="rotate(174 47.1 2.1)" fill="#f0f0f0"/>
<ellipse cx="47.5" cy="4.4" rx="1.13" ry="0.85" transform="rotate(135 47.5 4.4)" fill="#ffffff"/>
<ellipse cx="45.7" cy="7.4" rx="1.08" ry="0.71" transform="rotate(35 45.7 7.4)" fill="#dcdcdc"/>
<ellipse cx="48.8" cy="11.0" rx="1.27" ry="0.95" transform="rotate(10 48.8 11.0)" fill="#ffffff"/>
<ellipse cx="47.2" cy="13.7" rx="1.26" ry="0.95" transform="rotate(160 47.2 13.7)" fill="#ffffff"/>
<ellipse cx="48.2" cy="16.1" rx="1.08" ry="0.87" transform="rotate(10 48.2 16.1)" fill="#f0f0f0"/>
<ellipse cx="45.8" cy="19.2" rx="0.93" ry="0.72" transform="rotate(131 45.8 19.2)" fill="#f0f0f0"/>
<ellipse cx="47.3" cy="22.7" rx="1.27" ry="0.88" transform="rotate(130 47.3 22.7)" fill="#ffffff"/>
<ellipse cx="47.2" cy="26.2" rx="1.11" ry="0.81" transform="rotate(22 47.2 26.2)" fill="#f0f0f0"/>
<ellipse cx="48.6" cy="28.7" rx="1.11" ry="0.96" transform="rotate(51 48.6 28.7)" fill="#f0f0f0"/>
<ellipse cx="46.4" cy="31.6" rx="1.13" ry="0.89" transform="rotate(79 46.4 31.6)" fill="#ffffff"/>
<ellipse cx="47.5" cy="34.0" rx="1.08" ry="0.85" transform="rotate(149 47.5 34.0)" fill="#dcdcdc"/>
<ellipse cx="45.6" cy="37.2" rx="1.24" ry="0.80" transform="rotate(142 45.6 37.2)" fill="#f0f0f0"/>
<ellipse cx="48.0" cy="40.1" rx="1.29" ry="0.82" transform="rotate(5 48.0 40.1)" fill="#ffffff"/>
<ellipse cx="46.6" cy="43.7" rx="1.01" ry="0.96" transform="rotate(132 46.6 43.7)" fill="#dcdcdc"/>
<ellipse cx="48.6" cy="46.2" rx="1.19" ry="0.91" transform="rotate(173 48.6 46.2)" fill="#ffffff"/>
<ellipse cx="46.4" cy="49.8" rx="0.91" ry="0.78" transform="rotate(156 46.4 49.8)" fill="#f0f0f0"/>
<ellipse cx="48.6" cy="52.5" rx="1.18" ry="1.00" transform="rotate(121 48.6 52.5)" fill="#f0f0f0"/>
<ellipse cx="47.0" cy="55.9" rx="1.26" ry="0.75" transform="rotate(26 47.0 55.9)" fill="#ffffff"/>
<ellipse cx="47.8" cy="58.6" rx="0.90" ry="0.86" transform="rotate(146 47.8 58.6)" fill="#ffffff"/>
<ellipse cx="46.4" cy="62.0" rx="1.24" ry="0.94" transform="rotate(97 46.4 62.0)" fill="#dcdcdc"/>
<ellipse cx="48.3" cy="64.1" rx="1.01" ry="0.84" transform="rotate(134 48.3 64.1)" fill="#dcdcdc"/>
<ellipse cx="46.8" cy="66.6" rx="1.19" ry="1.10" transform="rotate(97 46.8 66.6)" fill="#dcdcdc"/>
<ellipse cx="49.1" cy="1.6" rx="1.21" ry="0.87" transform="rotate(96 49.1 1.6)" fill="#ffffff"/>
<ellipse cx="50.3" cy="5.3" rx="1.00" ry="1.04" transform="rotate(62 50.3 5.3)" fill="#f0f0f0"/>
<ellipse cx="49.0" cy="7.4" rx="1.26" ry="0.70" transform="rotate(12 49.0 7.4)" fill="#f0f0f0"/>
<ellipse cx="51.1" cy="10.5" rx="1.26" ry="1.01" transform="rotate(137 51.1 10.5)" fill="#dcdcdc"/>
<ellipse cx="49.5" cy="13.5" rx="1.16" ry="0.86" transform="rotate(91 49.5 13.5)" fill="#ffffff"/>
<ellipse cx="51.2" cy="16.2" rx="1.28" ry="0.97" transform="rotate(134 51.2 16.2)" fill="#ffffff"/>
<ellipse cx="48.8" cy="19.3" rx="1.03" ry="0.92" transform="rotate(146 48.8 19.3)" fill="#ffffff"/>
<ellipse cx="51.7" cy="23.3" rx="1.07" ry="0.88" transform="rotate(159 51.7 23.3)" fill="#f0f0f0"/>
<ellipse cx="49.8" cy="25.9" rx="0.89" ry="0.85" transform="rotate(93 49.8 25.9)" fill="#ffffff"/>
<ellipse cx="51.6" cy="28.5" rx="0.90" ry="1.06" transform="rotate(176 51.6 28.5)" fill="#f0f0f0"/>
<ellipse cx="50.1" cy="32.4" rx="1.25" ry="0.87" transform="rotate(40 50.1 32.4)" fill="#f0f0f0"/>
<ellipse cx="51.6" cy="34.0" rx="1.25" ry="0.86" transform="rotate(15 51.6 34.0)" fill="#ffffff"/>
<ellipse cx="49.2" cy="38.4" rx="1.14" ry="0.72" transform="rotate(105 49.2 38.4)" fill="#ffffff"/>
<ellipse cx="51.5" cy="40.2" rx="1.16" ry="0.70" transform="rotate(77 51.5 40.2)" fill="#dcdcdc"/>
<ellipse cx="50.1" cy="43.7" rx="1.15" ry="0.78" transform="rotate(127 50.1 43.7)" fill="#f0f0f0"/>
<ellipse cx="51.7" cy="47.2" rx="1.08" ry="0.76" transform="rotate(50 51.7 47.2)" fill="#dcdcdc"/>
<ellipse cx="49.7" cy="48.9" rx="1.08" ry="0.90" transform="rotate(7 49.7 48.9)" fill="#ffffff"/>
<ellipse cx="50.2" cy="53.3" rx="1.07" ry="0.89" transform="rotate(110 50.2 53.3)" fill="#ffffff"/>
<ellipse cx="49.8" cy="55.8" rx="1.11" ry="0.76" transform="rotate(60 49.8 55.8)" fill="#f0f0f0"/>
<ellipse cx="50.6" cy="57.7" rx="1.13" ry="1.04" transform="rotate(149 50.6 57.7)" fill="#ffffff"/>
<ellipse cx="49.2" cy="61.4" rx="1.02" ry="0.72" transform="rotate(101 49.2 61.4)" fill="#ffffff"/>
<ellipse cx="50.9" cy="64.7" rx="0.96" ry="0.72" transform="rotate(150 50.9 64.7)" fill="#ffffff"/>
<ellipse cx="49.2" cy="68.2" rx="1.22" ry="0.82" transform="rotate(154 49.2 68.2)" fill="#f0f0f0"/>
<ellipse cx="49.2" cy="-0.8" rx="1.22" ry="0.82" transform="rotate(154 49.2 -0.8)" fill="#f0f0f0"/>
<ellipse cx="53.3" cy="1.5" rx="1.28" ry="0.80" transform="rotate(99 53.3 1.5)" fill="#ffffff"/>
<ellipse cx="53.3" cy="70.5" rx="1.28" ry="0.80" transform="rotate(99 53.3 70.5)" fill="#ffffff"/>
<ellipse cx="53.8" cy="4.3" rx="1.17" ry="0.71" transform="rotate(62 53.8 4.3)" fill="#ffffff"/>
<ellipse cx="51.9" cy="7.2" rx="0.93" ry="1.09" transform="rotate(74 51.9 7.2)" fill="#dcdcdc"/>
<ellipse cx="54.1" cy="9.8" rx="1.09" ry="0.85" transform="rotate(103 54.1 9.8)" fill="#ffffff"/>
<ellipse cx="53.3" cy="13.4" rx="1.26" ry="0.92" transform="rotate(99 53.3 13.4)" fill="#ffffff"/>
<ellipse cx="53.9" cy="16.2" rx="1.05" ry="0.81" transform="rotate(6 53.9 16.2)" fill="#f0f0f0"/>
<ellipse cx="53.0" cy="19.0" rx="0.91" ry="0.78" transform="rotate(139 53.0 19.0)" fill="#ffffff"/>
<ellipse cx="54.1" cy="22.4" rx="1.21" ry="0.80" transform="rotate(94 54.1 22.4)" fill="#f0f0f0"/>
<ellipse cx="52.0" cy="25.3" rx="1.13" ry="0.93" transform="rotate(76 52.0 25.3)" fill="#dcdcdc"/>
<ellipse cx="54.0" cy="28.0" rx="1.05" ry="0.75" transform="rotate(180 54.0 28.0)" fill="#f0f0f0"/>
<ellipse cx="52.7" cy="31.4" rx="1.30" ry="0.91" transform="rotate(103 52.7 31.4)" fill="#ffffff"/>
<ellipse cx="53.3" cy="35.0" rx="1.16" ry="0.74" transform="rotate(69 53.3 35.0)" fill="#dcdcdc"/>
<ellipse cx="51.7" cy="37.9" rx="0.92" ry="0.71" transform="rotate(22 51.7 37.9)" fill="#ffffff"/>
<ellipse cx="54.5" cy="40.0" rx="0.93" ry="1.06" transform="rotate(17 54.5 40.0)" fill="#f0f0f0"/>
<ellipse cx="53.0" cy="44.0" rx="0.94" ry="0.99" transform="rotate(22 53.0 44.0)" fill="#ffffff"/>
<ellipse cx="53.6" cy="47.1" rx="1.03" ry="0.84" transform="rotate(118 53.6 47.1)" fill="#ffffff"/>
<ellipse cx="53.3" cy="48.9" rx="1.01" ry="1.02" transform="rotate(176 53.3 48.9)" fill="#f0f0f0"/>
<ellipse cx="54.7" cy="51.6" rx="1.17" ry="0.89" transform="rotate(102 54.7 51.6)" fill="#f0f0f0"/>
<ellipse cx="53.2" cy="54.8" rx="0.98" ry="0.81" transform="rotate(155 53.2 54.8)" fill="#ffffff"/>
<ellipse cx="54.4" cy="57.7" rx="0.87" ry="0.76" transform="rotate(50 54.4 57.7)" fill="#f0f0f0"/>
<ellipse cx="51.9" cy="61.9" rx="1.10" ry="0.95" transform="rotate(45 51.9 61.9)" fill="#ffffff"/>
<ellipse cx="54.1" cy="64.9" rx="0.96" ry="0.87" transform="rotate(175 54.1 64.9)" fill="#f0f0f0"/>
<ellipse cx="53.3" cy="66.8" rx="1.19" ry="0.96" transform="rotate(10 53.3 66.8)" fill="#ffffff"/>
<ellipse cx="56.4" cy="1.8" rx="0.87" ry="0.83" transform="rotate(88 56.4 1.8)" fill="#ffffff"/>
<ellipse cx="56.9" cy="4.9" rx="1.30" ry="0.95" transform="rotate(56 56.9 4.9)" fill="#f0f0f0"/>
<ellipse cx="55.5" cy="7.2" rx="1.28" ry="0.88" transform="rotate(87 55.5 7.2)" fill="#dcdcdc"/>
<ellipse cx="57.0" cy="10.8" rx="0.94" ry="0.97" transform="rotate(32 57.0 10.8)" fill="#dcdcdc"/>
<ellipse cx="56.0" cy="12.7" rx="1.17" ry="1.02" transform="rotate(66 56.0 12.7)" fill="#ffffff"/>
<ellipse cx="57.1" cy="17.3" rx="1.14" ry="0.92" transform="rotate(63 57.1 17.3)" fill="#ffffff"/>
<ellipse cx="54.9" cy="19.2" rx="0.89" ry="0.95" transform="rotate(35 54.9 19.2)" fill="#ffffff"/>
<ellipse cx="57.3" cy="22.5" rx="1.07" ry="0.98" transform="rotate(1 57.3 22.5)" fill="#dcdcdc"/>
<ellipse cx="54.8" cy="25.8" rx="1.16" ry="0.75" transform="rotate(36 54.8 25.8)" fill="#ffffff"/>
<ellipse cx="56.7" cy="29.1" rx="1.10" ry="1.00" transform="rotate(43 56.7 29.1)" fill="#ffffff"/>
<ellipse cx="55.7" cy="31.4" rx="1.19" ry="1.03" transform="rotate(29 55.7 31.4)" fill="#f0f0f0"/>
<ellipse cx="56.1" cy="34.5" rx="0.87" ry="1.06" transform="rotate(77 56.1 34.5)" fill="#ffffff"/>
<ellipse cx="54.8" cy="37.2" rx="1.28" ry="0.76" transform="rotate(113 54.8 37.2)" fill="#dcdcdc"/>
<ellipse cx="57.1" cy="40.1" rx="1.10" ry="0.72" transform="rotate(119 57.1 40.1)" fill="#dcdcdc"/>
<ellipse cx="54.8" cy="43.9" rx="1.29" ry="0.93" transform="rotate(27 54.8 43.9)" fill="#dcdcdc"/>
<ellipse cx="57.8" cy="46.5" rx="1.20" ry="0.83" transform="rotate(91 57.8 46.5)" fill="#ffffff"/>
<ellipse cx="55.8" cy="49.7" rx="1.27" ry="0.96" transform="rotate(64 55.8 49.7)" fill="#ffffff"/>
<ellipse cx="56.2" cy="52.9" rx="0.86" ry="0.86" transform="rotate(37 56.2 52.9)" fill="#f0f0f0"/>
<ellipse cx="55.3" cy="56.3" rx="1.09" ry="1.06" transform="rotate(174 55.3 56.3)" fill="#ffffff"/>
<ellipse cx="56.3" cy="58.9" rx="0.99" ry="0.95" transform="rotate(97 56.3 58.9)" fill="#ffffff"/>
<ellipse cx="55.8" cy="61.2" rx="0.95" ry="0.75" transform="rotate(94 55.8 61.2)" fill="#f0f0f0"/>
<ellipse cx="56.5" cy="63.7" rx="1.11" ry="0.95" transform="rotate(180 56.5 63.7)" fill="#dcdcdc"/>
<ellipse cx="56.2" cy="68.3" rx="1.07" ry="0.90" transform="rotate(40 56.2 68.3)" fill="#f0f0f0"/>
<ellipse cx="56.2" cy="-0.7" rx="1.07" ry="0.90" transform="rotate(40 56.2 -0.7)" fill="#f0f0f0"/>
<ellipse cx="58.7" cy="1.7" rx="0.91" ry="0.79" transform="rotate(35 58.7 1.7)" fill="#dcdcdc"/>
<ellipse cx="60.2" cy="4.3" rx="1.29" ry="1.04" transform="rotate(122 60.2 4.3)" fill="#ffffff"/>
<ellipse cx="58.0" cy="7.3" rx="0.86" ry="0.94" transform="rotate(130 58.0 7.3)" fill="#dcdcdc"/>
<ellipse cx="59.4" cy="9.7" rx="0.87" ry="0.98" transform="rotate(86 59.4 9.7)" fill="#ffffff"/>
<ellipse cx="58.4" cy="13.8" rx="1.22" ry="1.06" transform="rotate(42 58.4 13.8)" fill="#dcdcdc"/>
<ellipse cx="59.6" cy="16.4" rx="1.10" ry="0.84" transform="rotate(50 59.6 16.4)" fill="#dcdcdc"/>
<ellipse cx="57.8" cy="19.2" rx="1.06" ry="1.09" transform="rotate(160 57.8 19.2)" fill="#ffffff"/>
<ellipse cx="60.9" cy="23.3" rx="1.13" ry="1.02" transform="rotate(15 60.9 23.3)" fill="#f0f0f0"/>
<ellipse cx="58.7" cy="25.1" rx="1.11" ry="1.08" transform="rotate(123 58.7 25.1)" fill="#ffffff"/>
<ellipse cx="59.6" cy="28.2" rx="1.25" ry="0.71" transform="rotate(48 59.6 28.2)" fill="#ffffff"/>
<ellipse cx="58.8" cy="31.4" rx="0.89" ry="0.96" transform="rotate(95 58.8 31.4)" fill="#dcdcdc"/>
<ellipse cx="59.7" cy="34.0" rx="1.05" ry="0.80" transform="rotate(58 59.7 34.0)" fill="#ffffff"/>
<ellipse cx="59.3" cy="37.0" rx="1.19" ry="0.79" transform="rotate(64 59.3 37.0)" fill="#ffffff"/>
<ellipse cx="59.4" cy="40.8" rx="1.17" ry="0.79" transform="rotate(117 59.4 40.8)" fill="#ffffff"/>
<ellipse cx="58.6" cy="43.9" rx="1.18" ry="1.06" transform="rotate(145 58.6 43.9)" fill="#ffffff"/>
<ellipse cx="60.6" cy="46.8" rx="1.21" ry="0.75" transform="rotate(128 60.6 46.8)" fill="#ffffff"/>
<ellipse cx="58.7" cy="50.3" rx="1.08" ry="0.88" transform="rotate(175 58.7 50.3)" fill="#dcdcdc"/>
<ellipse cx="60.1" cy="53.3" rx="0.94" ry="0.89" transform="rotate(23 60.1 53.3)" fill="#ffffff"/>
<ellipse cx="58.3" cy="55.7" rx="1.03" ry="0.72" transform="rotate(10 58.3 55.7)" fill="#ffffff"/>
<ellipse cx="60.4" cy="59.3" rx="1.06" ry="0.75" transform="rotate(34 60.4 59.3)" fill="#dcdcdc"/>
<ellipse cx="59.2" cy="60.8" rx="1.29" ry="0.78" transform="rotate(29 59.2 60.8)" fill="#f0f0f0"/>
<ellipse cx="59.4" cy="64.9" rx="1.00" ry="1.01" transform="rotate(174 59.4 64.9)" fill="#ffffff"/>
<ellipse cx="59.1" cy="66.8" rx="1.02" ry="0.99" transform="rotate(91 59.1 66.8)" fill="#dcdcdc"/>
<ellipse cx="60.7" cy="1.7" rx="0.89" ry="0.92" transform="rotate(154 60.7 1.7)" fill="#ffffff"/>
<ellipse cx="62.2" cy="5.2" rx="0.96" ry="0.84" transform="rotate(177 62.2 5.2)" fill="#dcdcdc"/>
<ellipse cx="60.6" cy="8.4" rx="1.05" ry="1.02" transform="rotate(124 60.6 8.4)" fill="#ffffff"/>
<ellipse cx="62.2" cy="10.1" rx="0.92" ry="1.07" transform="rotate(175 62.2 10.1)" fill="#dcdcdc"/>
<ellipse cx="62.1" cy="13.7" rx="0.96" ry="1.10" transform="rotate(68 62.1 13.7)" fill="#dcdcdc"/>
<ellipse cx="62.1" cy="16.2" rx="0.92" ry="0.90" transform="rotate(8 62.1 16.2)" fill="#ffffff"/>
<ellipse cx="60.7" cy="19.7" rx="1.14" ry="0.94" transform="rotate(121 60.7 19.7)" fill="#ffffff"/>
<ellipse cx="63.3" cy="22.4" rx="0.95" ry="1.08" transform="rotate(132 63.3 22.4)" fill="#ffffff"/>
<ellipse cx="61.2" cy="25.6" rx="0.99" ry="0.75" transform="rotate(159 61.2 25.6)" fill="#ffffff"/>
<ellipse cx="62.5" cy="29.1" rx="1.18" ry="0.83" transform="rotate(119 62.5 29.1)" fill="#dcdcdc"/>
<ellipse cx="62.3" cy="31.2" rx="1.00" ry="0.89" transform="rotate(58 62.3 31.2)" fill="#ffffff"/>
<ellipse cx="62.5" cy="35.2" rx="1.12" ry="0.95" transform="rotate(171 62.5 35.2)" fill="#ffffff"/>
<ellipse cx="61.1" cy="37.1" rx="1.08" ry="0.80" transform="rotate(145 61.1 37.1)" fill="#ffffff"/>
<ellipse cx="63.9" cy="39.7" rx="1.10" ry="1.01" transform="rotate(51 63.9 39.7)" fill="#dcdcdc"/>
<ellipse cx="61.7" cy="43.7" rx="1.01" ry="0.81" transform="rotate(60 61.7 43.7)" fill="#ffffff"/>
<ellipse cx="63.3" cy="46.1" rx="1.19" ry="1.00" transform="rotate(130 63.3 46.1)" fill="#ffffff"/>
<ellipse cx="61.2" cy="49.6" rx="1.03" ry="0.72" transform="rotate(86 61.2 49.6)" fill="#f0f0f0"/>
<ellipse cx="63.7" cy="53.0" rx="1.08" ry="1.06" transform="rotate(60 63.7 53.0)" fill="#f0f0f0"/>
<ellipse cx="60.9" cy="55.0" rx="1.25" ry="0.97" transform="rotate(103 60.9 55.0)" fill="#dcdcdc"/>
<ellipse cx="62.8" cy="59.0" rx="1.27" ry="0.93" transform="rotate(36 62.8 59.0)" fill="#f0f0f0"/>
<ellipse cx="61.9" cy="61.1" rx="1.11" ry="0.96" transform="rotate(87 61.9 61.1)" fill="#ffffff"/>
<ellipse cx="63.8" cy="64.7" rx="0.89" ry="0.77" transform="rotate(148 63.8 64.7)" fill="#f0f0f0"/>
<ellipse cx="62.4" cy="67.2" rx="1.20" ry="0.87" transform="rotate(17 62.4 67.2)" fill="#dcdcdc"/>
<ellipse cx="64.2" cy="0.9" rx="1.25" ry="0.92" transform="rotate(42 64.2 0.9)" fill="#f0f0f0"/>
<ellipse cx="64.2" cy="69.9" rx="1.25" ry="0.92" transform="rotate(42 64.2 69.9)" fill="#f0f0f0"/>
<ellipse cx="65.5" cy="3.6" rx="0.87" ry="0.88" transform="rotate(154 65.5 3.6)" fill="#f0f0f0"/>
<ellipse cx="65.2" cy="7.8" rx="0.94" ry="0.99" transform="rotate(33 65.2 7.8)" fill="#ffffff"/>
<ellipse cx="65.2" cy="11.1" rx="1.24" ry="0.84" transform="rotate(34 65.2 11.1)" fill="#ffffff"/>
<ellipse cx="63.9" cy="13.6" rx="1.24" ry="0.96" transform="rotate(7 63.9 13.6)" fill="#ffffff"/>
<ellipse cx="65.7" cy="17.2" rx="0.86" ry="0.89" transform="rotate(156 65.7 17.2)" fill="#f0f0f0"/>
<ellipse cx="63.9" cy="20.2" rx="1.21" ry="0.73" transform="rotate(156 63.9 20.2)" fill="#f0f0f0"/>
<ellipse cx="66.5" cy="23.4" rx="1.03" ry="1.08" transform="rotate(3 66.5 23.4)" fill="#ffffff"/>
<ellipse cx="65.3" cy="25.6" rx="1.29" ry="0.72" transform="rotate(157 65.3 25.6)" fill="#f0f0f0"/>
<ellipse cx="65.4" cy="27.6" rx="0.94" ry="0.91" transform="rotate(23 65.4 27.6)" fill="#f0f0f0"/>
<ellipse cx="65.1" cy="31.4" rx="1.09" ry="0.94" transform="rotate(142 65.1 31.4)" fill="#ffffff"/>
<ellipse cx="66.3" cy="34.7" rx="1.00" ry="1.00" transform="rotate(66 66.3 34.7)" fill="#dcdcdc"/>
<ellipse cx="65.0" cy="38.0" rx="0.99" ry="1.01" transform="rotate(180 65.0 38.0)" fill="#dcdcdc"/>
<ellipse cx="66.1" cy="40.3" rx="1.09" ry="0.81" transform="rotate(64 66.1 40.3)" fill="#ffffff"/>
<ellipse cx="64.6" cy="42.8" rx="1.21" ry="1.09" transform="rotate(38 64.6 42.8)" fill="#ffffff"/>
<ellipse cx="65.8" cy="47.4" rx="1.27" ry="0.95" transform="rotate(31 65.8 47.4)" fill="#ffffff"/>
<ellipse cx="64.6" cy="49.0" rx="1.20" ry="0.80" transform="rotate(155 64.6 49.0)" fill="#f0f0f0"/>
<ellipse cx="66.4" cy="53.2" rx="1.24" ry="1.04" transform="rotate(41 66.4 53.2)" fill="#ffffff"/>
<ellipse cx="64.2" cy="55.9" rx="1.05" ry="1.04" transform="rotate(54 64.2 55.9)" fill="#f0f0f0"/>
<ellipse cx="66.7" cy="58.3" rx="0.95" ry="1.02" transform="rotate(6 66.7 58.3)" fill="#ffffff"/>
<ellipse cx="64.8" cy="60.6" rx="1.21" ry="1.07" transform="rotate(172 64.8 60.6)" fill="#f0f0f0"/>
<ellipse cx="65.2" cy="64.6" rx="1.03" ry="1.07" transform="rotate(168 65.2 64.6)" fill="#ffffff"/>
<ellipse cx="63.7" cy="66.6" rx="1.17" ry="0.80" transform="rotate(90 63.7 66.6)" fill="#ffffff"/>
<ellipse cx="67.2" cy="1.4" rx="0.98" ry="1.05" transform="rotate(127 67.2 1.4)" fill="#ffffff"/>
<ellipse cx="67.2" cy="70.4" rx="0.98" ry="1.05" transform="rotate(127 67.2 70.4)" fill="#ffffff"/>
<ellipse cx="69.9" cy="5.0" rx="1.06" ry="1.07" transform="rotate(68 69.9 5.0)" fill="#ffffff"/>
<ellipse cx="0.9" cy="5.0" rx="1.06" ry="1.07" transform="rotate(68 0.9 5.0)" fill="#ffffff"/>
<ellipse cx="68.1" cy="7.1" rx="1.00" ry="0.89" transform="rotate(63 68.1 7.1)" fill="#ffffff"/>
<ellipse cx="-0.9" cy="7.1" rx="1.00" ry="0.89" transform="rotate(63 -0.9 7.1)" fill="#ffffff"/>
<ellipse cx="68.7" cy="10.7" rx="1.28" ry="0.78" transform="rotate(13 68.7 10.7)" fill="#ffffff"/>
<ellipse cx="-0.3" cy="10.7" rx="1.28" ry="0.78" transform="rotate(13 -0.3 10.7)" fill="#ffffff"/>
<ellipse cx="68.1" cy="13.9" rx="0.87" ry="1.01" transform="rotate(112 68.1 13.9)" fill="#ffffff"/>
<ellipse cx="-0.9" cy="13.9" rx="0.87" ry="1.01" transform="rotate(112 -0.9 13.9)" fill="#ffffff"/>
<ellipse cx="68.9" cy="15.9" rx="1.27" ry="0.97" transform="rotate(28 68.9 15.9)" fill="#ffffff"/>
<ellipse cx="-0.1" cy="15.9" rx="1.27" ry="0.97" transform="rotate(28 -0.1 15.9)" fill="#ffffff"/>
<ellipse cx="68.4" cy="18.6" rx="1.26" ry="0.76" transform="rotate(90 68.4 18.6)" fill="#ffffff"/>
<ellipse cx="-0.6" cy="18.6" rx="1.26" ry="0.76" transform="rotate(90 -0.6 18.6)" fill="#ffffff"/>
<ellipse cx="69.5" cy="22.4" rx="1.03" ry="0.87" transform="rotate(164 69.5 22.4)" fill="#dcdcdc"/>
<ellipse cx="0.5" cy="22.4" rx="1.03" ry="0.87" transform="rotate(164 0.5 22.4)" fill="#dcdcdc"/>
<ellipse cx="68.2" cy="26.4" rx="0.86" ry="0.79" transform="rotate(160 68.2 26.4)" fill="#ffffff"/>
<ellipse cx="-0.8" cy="26.4" rx="0.86" ry="0.79" transform="rotate(160 -0.8 26.4)" fill="#ffffff"/>
<ellipse cx="68.2" cy="28.5" rx="0.95" ry="0.87" transform="rotate(26 68.2 28.5)" fill="#ffffff"/>
<ellipse cx="-0.8" cy="28.5" rx="0.95" ry="0.87" transform="rotate(26 -0.8 28.5)" fill="#ffffff"/>
<ellipse cx="66.7" cy="32.2" rx="0.88" ry="0.74" transform="rotate(124 66.7 32.2)" fill="#ffffff"/>
<ellipse cx="69.0" cy="33.6" rx="0.95" ry="0.92" transform="rotate(162 69.0 33.6)" fill="#ffffff"/>
<ellipse cx="0.0" cy="33.6" rx="0.95" ry="0.92" transform="rotate(162 0.0 33.6)" fill="#ffffff"/>
<ellipse cx="67.6" cy="38.1" rx="1.28" ry="0.73" transform="rotate(55 67.6 38.1)" fill="#ffffff"/>
<ellipse cx="-1.4" cy="38.1" rx="1.28" ry="0.73" transform="rotate(55 -1.4 38.1)" fill="#ffffff"/>
<ellipse cx="69.4" cy="40.1" rx="0.93" ry="0.81" transform="rotate(17 69.4 40.1)" fill="#ffffff"/>
<ellipse cx="0.4" cy="40.1" rx="0.93" ry="0.81" transform="rotate(17 0.4 40.1)" fill="#ffffff"/>
<ellipse cx="67.0" cy="42.7" rx="1.21" ry="1.08" transform="rotate(68 67.0 42.7)" fill="#ffffff"/>
<ellipse cx="68.7" cy="45.7" rx="1.05" ry="0.81" transform="rotate(84 68.7 45.7)" fill="#dcdcdc"/>
<ellipse cx="-0.3" cy="45.7" rx="1.05" ry="0.81" transform="rotate(84 -0.3 45.7)" fill="#dcdcdc"/>
<ellipse cx="68.4" cy="50.2" rx="1.17" ry="0.86" transform="rotate(81 68.4 50.2)" fill="#dcdcdc"/>
<ellipse cx="-0.6" cy="50.2" rx="1.17" ry="0.86" transform="rotate(81 -0.6 50.2)" fill="#dcdcdc"/>
<ellipse cx="68.8" cy="51.9" rx="1.19" ry="1.05" transform="rotate(36 68.8 51.9)" fill="#ffffff"/>
<ellipse cx="-0.2" cy="51.9" rx="1.19" ry="1.05" transform="rotate(36 -0.2 51.9)" fill="#ffffff"/>
<ellipse cx="67.0" cy="55.5" rx="1.29" ry="0.98" transform="rotate(96 67.0 55.5)" fill="#ffffff"/>
<ellipse cx="69.6" cy="58.8" rx="0.89" ry="0.95" transform="rotate(8 69.6 58.8)" fill="#ffffff"/>
<ellipse cx="0.6" cy="58.8" rx="0.89" ry="0.95" transform="rotate(8 0.6 58.8)" fill="#ffffff"/>
<ellipse cx="67.3" cy="61.6" rx="1.16" ry="0.88" transform="rotate(171 67.3 61.6)" fill="#f0f0f0"/>
<ellipse cx="68.9" cy="64.6" rx="1.06" ry="0.96" transform="rotate(120 68.9 64.6)" fill="#f0f0f0"/>
<ellipse cx="-0.1" cy="64.6" rx="1.06" ry="0.96" transform="rotate(120 -0.1 64.6)" fill="#f0f0f0"/>
<ellipse cx="67.7" cy="68.4" rx="0.96" ry="0.95" transform="rotate(96 67.7 68.4)" fill="#f0f0f0"/>
<ellipse cx="67.7" cy="-0.6" rx="0.96" ry="0.95" transform="rotate(96 67.7 -0.6)" fill="#f0f0f0"/>
<ellipse cx="-1.3" cy="68.4" rx="0.96" ry="0.95" transform="rotate(96 -1.3 68.4)" fill="#f0f0f0"/>
<ellipse cx="-1.3" cy="-0.6" rx="0.96" ry="0.95" transform="rotate(96 -1.3 -0.6)" fill="#f0f0f0"/>
<circle cx="49.1" cy="27.2" r="0.48" fill="#2e2e2e"/>
<circle cx="42.3" cy="46.7" r="0.43" fill="#2e2e2e"/>
<circle cx="43.4" cy="37.5" r="0.41" fill="#2e2e2e"/>
<circle cx="42.3" cy="18.3" r="0.58" fill="#2e2e2e"/>
<circle cx="32.7" cy="49.8" r="0.48" fill="#2e2e2e"/>
<circle cx="32.9" cy="15.3" r="0.39" fill="#2e2e2e"/>
<circle cx="64.0" cy="36.5" r="0.48" fill="#2e2e2e"/>
<circle cx="36.4" cy="56.1" r="0.41" fill="#2e2e2e"/>
<circle cx="11.9" cy="56.7" r="0.47" fill="#2e2e2e"/>
<circle cx="44.2" cy="57.1" r="0.57" fill="#2e2e2e"/>
<circle cx="59.9" cy="3.0" r="0.45" fill="#2e2e2e"/>
<circle cx="57.4" cy="56.4" r="0.38" fill="#2e2e2e"/>
<circle cx="10.6" cy="17.4" r="0.38" fill="#2e2e2e"/>
<circle cx="24.6" cy="55.4" r="0.48" fill="#2e2e2e"/>
<circle cx="31.2" cy="6.1" r="0.45" fill="#2e2e2e"/>
<circle cx="68.8" cy="48.0" r="0.46" fill="#2e2e2e"/>
<circle cx="33.0" cy="55.1" r="0.54" fill="#2e2e2e"/>
<circle cx="10.3" cy="46.9" r="0.44" fill="#2e2e2e"/>
<circle cx="35.9" cy="16.4" r="0.44" fill="#2e2e2e"/>
<circle cx="23.5" cy="26.3" r="0.35" fill="#2e2e2e"/>
<circle cx="13.9" cy="39.4" r="0.36" fill="#2e2e2e"/>
<circle cx="12.3" cy="49.6" r="0.42" fill="#2e2e2e"/>
<circle cx="22.4" cy="16.7" r="0.56" fill="#2e2e2e"/>
<circle cx="6.3" cy="43.9" r="0.56" fill="#2e2e2e"/>
<circle cx="13.9" cy="29.2" r="0.55" fill="#2e2e2e"/>
<circle cx="42.6" cy="25.6" r="0.36" fill="#2e2e2e"/>
<circle cx="30.5" cy="25.3" r="0.53" fill="#2e2e2e"/>
<circle cx="20.4" cy="28.1" r="0.51" fill="#2e2e2e"/>
<circle cx="55.9" cy="24.3" r="0.45" fill="#2e2e2e"/>
<circle cx="39.9" cy="63.8" r="0.40" fill="#2e2e2e"/>
<circle cx="67.0" cy="49.1" r="0.44" fill="#2e2e2e"/>
<circle cx="45.9" cy="22.7" r="0.37" fill="#2e2e2e"/>
<circle cx="52.2" cy="26.2" r="0.48" fill="#2e2e2e"/>
<circle cx="34.3" cy="62.2" r="0.54" fill="#2e2e2e"/>
<circle cx="1.8" cy="40.9" r="0.47" fill="#2e2e2e"/>
<circle cx="31.9" cy="57.9" r="0.45" fill="#2e2e2e"/>
<circle cx="32.7" cy="61.4" r="0.46" fill="#2e2e2e"/>
<circle cx="33.9" cy="35.3" r="0.56" fill="#2e2e2e"/>
<circle cx="46.3" cy="51.1" r="0.45" fill="#2e2e2e"/>
<circle cx="2.8" cy="46.9" r="0.49" fill="#2e2e2e"/>
<circle cx="53.1" cy="53.1" r="0.38" fill="#2e2e2e"/>
<circle cx="15.2" cy="5.3" r="0.55" fill="#2e2e2e"/>
<circle cx="7.0" cy="6.1" r="0.54" fill="#2e2e2e"/>
<circle cx="38.9" cy="3.8" r="0.52" fill="#2e2e2e"/>
<circle cx="49.1" cy="33.3" r="0.36" fill="#2e2e2e"/>
<circle cx="47.7" cy="28.8" r="0.50" fill="#2e2e2e"/>
<circle cx="68.9" cy="56.4" r="0.57" fill="#2e2e2e"/>
<circle cx="10.0" cy="23.1" r="0.48" fill="#2e2e2e"/>
<circle cx="0.4" cy="68.2" r="0.42" fill="#2e2e2e"/>
<circle cx="18.1" cy="21.6" r="0.41" fill="#2e2e2e"/>
<circle cx="59.3" cy="38.3" r="0.48" fill="#2e2e2e"/>
<circle cx="29.0" cy="3.5" r="0.43" fill="#2e2e2e"/>
<circle cx="59.8" cy="55.3" r="0.56" fill="#2e2e2e"/>
<circle cx="17.7" cy="13.9" r="0.36" fill="#2e2e2e"/>
<circle cx="37.0" cy="25.8" r="0.47" fill="#2e2e2e"/>
<circle cx="33.7" cy="40.3" r="0.44" fill="#2e2e2e"/>
<circle cx="55.3" cy="13.8" r="0.58" fill="#2e2e2e"/>
<circle cx="38.4" cy="3.5" r="0.43" fill="#2e2e2e"/>
<circle cx="36.8" cy="28.2" r="0.49" fill="#2e2e2e"/>
<circle cx="22.3" cy="18.9" r="0.55" fill="#2e2e2e"/>
<circle cx="20.1" cy="49.0" r="0.55" fill="#2e2e2e"/>
<circle cx="40.9" cy="31.4" r="0.58" fill="#2e2e2e"/>
<circle cx="30.7" cy="60.6" r="0.36" fill="#2e2e2e"/>
<circle cx="29.9" cy="44.1" r="0.36" fill="#2e2e2e"/>
<circle cx="59.5" cy="5.0" r="0.50" fill="#2e2e2e"/>
<circle cx="12.4" cy="63.6" r="0.49" fill="#2e2e2e"/>
<circle cx="55.2" cy="34.4" r="0.52" fill="#2e2e2e"/>
<circle cx="46.6" cy="20.3" r="0.40" fill="#2e2e2e"/>
<circle cx="57.8" cy="10.1" r="0.58" fill="#2e2e2e"/>
<circle cx="14.3" cy="7.0" r="0.37" fill="#2e2e2e"/>
<circle cx="54.1" cy="65.6" r="0.45" fill="#2e2e2e"/>
<circle cx="45.5" cy="17.8" r="0.58" fill="#2e2e2e"/>
<circle cx="47.3" cy="10.7" r="0.36" fill="#2e2e2e"/>
<circle cx="48.0" cy="2.9" r="0.56" fill="#2e2e2e"/>
<circle cx="20.3" cy="16.1" r="0.50" fill="#2e2e2e"/>
<circle cx="22.0" cy="38.7" r="0.39" fill="#2e2e2e"/>
<circle cx="62.9" cy="22.4" r="0.56" fill="#2e2e2e"/>
<circle cx="10.5" cy="55.2" r="0.60" fill="#2e2e2e"/>
<circle cx="27.0" cy="2.3" r="0.44" fill="#2e2e2e"/>
<circle cx="44.2" cy="15.4" r="0.49" fill="#2e2e2e"/>
<circle cx="6.5" cy="32.0" r="0.53" fill="#2e2e2e"/>
<circle cx="29.7" cy="46.8" r="0.38" fill="#2e2e2e"/>
<circle cx="57.2" cy="8.4" r="0.58" fill="#2e2e2e"/>
<circle cx="68.7" cy="64.8" r="0.48" fill="#2e2e2e"/>
<circle cx="20.1" cy="24.0" r="0.54" fill="#2e2e2e"/>
<circle cx="34.3" cy="64.2" r="0.37" fill="#2e2e2e"/>
<circle cx="33.4" cy="59.6" r="0.50" fill="#2e2e2e"/>
<circle cx="37.3" cy="6.1" r="0.38" fill="#2e2e2e"/>
<circle cx="18.7" cy="61.6" r="0.56" fill="#2e2e2e"/>
<circle cx="15.7" cy="63.8" r="0.36" fill="#2e2e2e"/>
<circle cx="41.3" cy="66.7" r="0.44" fill="#2e2e2e"/>
<circle cx="65.2" cy="45.3" r="0.36" fill="#2e2e2e"/>
<circle cx="23.0" cy="31.0" r="0.41" fill="#2e2e2e"/>
<circle cx="51.2" cy="12.3" r="0.55" fill="#2e2e2e"/>
<circle cx="20.6" cy="4.8" r="0.49" fill="#2e2e2e"/>
<circle cx="6.6" cy="38.1" r="0.55" fill="#2e2e2e"/>
<circle cx="41.1" cy="31.8" r="0.36" fill="#2e2e2e"/>
<circle cx="35.4" cy="6.7" r="0.51" fill="#2e2e2e"/>
<circle cx="9.1" cy="39.9" r="0.44" fill="#2e2e2e"/>
<circle cx="25.9" cy="45.8" r="0.39" fill="#2e2e2e"/>
<circle cx="11.7" cy="65.0" r="0.43" fill="#2e2e2e"/>
<circle cx="58.1" cy="60.3" r="0.47" fill="#2e2e2e"/>
<circle cx="10.3" cy="6.5" r="0.57" fill="#2e2e2e"/>
<circle cx="8.1" cy="34.2" r="0.48" fill="#2e2e2e"/>
<circle cx="8.1" cy="32.3" r="0.39" fill="#2e2e2e"/>
<circle cx="36.9" cy="35.0" r="0.44" fill="#2e2e2e"/>
<circle cx="13.6" cy="27.9" r="0.40" fill="#2e2e2e"/>
<circle cx="8.8" cy="16.6" r="0.57" fill="#2e2e2e"/>
<circle cx="34.6" cy="61.5" r="0.35" fill="#2e2e2e"/>
<circle cx="65.1" cy="33.7" r="0.55" fill="#2e2e2e"/>
<circle cx="39.4" cy="47.5" r="0.41" fill="#2e2e2e"/>
<circle cx="51.8" cy="10.6" r="0.42" fill="#2e2e2e"/>
<circle cx="2.1" cy="27.1" r="0.48" fill="#2e2e2e"/>
<circle cx="20.1" cy="61.4" r="0.37" fill="#2e2e2e"/>
<circle cx="39.9" cy="16.1" r="0.50" fill="#2e2e2e"/>
<circle cx="54.1" cy="49.0" r="0.37" fill="#2e2e2e"/>
<circle cx="17.0" cy="41.3" r="0.60" fill="#2e2e2e"/>
<circle cx="2.8" cy="42.7" r="0.52" fill="#2e2e2e"/>
<circle cx="56.2" cy="23.6" r="0.55" fill="#2e2e2e"/>
<circle cx="31.9" cy="63.5" r="0.35" fill="#2e2e2e"/>
<circle cx="64.9" cy="28.4" r="0.45" fill="#2e2e2e"/>
<circle cx="6.1" cy="16.9" r="0.53" fill="#2e2e2e"/>
<circle cx="46.8" cy="10.4" r="0.44" fill="#2e2e2e"/>
<circle cx="9.7" cy="13.7" r="0.40" fill="#2e2e2e"/>
<circle cx="22.8" cy="67.3" r="0.60" fill="#2e2e2e"/>
<circle cx="54.6" cy="33.1" r="0.47" fill="#2e2e2e"/>
<circle cx="53.8" cy="62.7" r="0.54" fill="#2e2e2e"/>
<circle cx="43.9" cy="13.7" r="0.51" fill="#2e2e2e"/>
<circle cx="58.4" cy="54.3" r="0.37" fill="#2e2e2e"/>
<circle cx="49.5" cy="24.1" r="0.39" fill="#2e2e2e"/>
<circle cx="66.6" cy="46.4" r="0.54" fill="#2e2e2e"/>
<circle cx="9.3" cy="57.2" r="0.58" fill="#2e2e2e"/>
<circle cx="62.4" cy="51.4" r="0.56" fill="#2e2e2e"/>
<circle cx="55.3" cy="40.7" r="0.46" fill="#2e2e2e"/>
<circle cx="56.9" cy="54.1" r="0.57" fill="#2e2e2e"/>
<circle cx="20.6" cy="66.3" r="0.48" fill="#2e2e2e"/>
<circle cx="65.3" cy="8.0" r="0.59" fill="#2e2e2e"/>
<circle cx="54.3" cy="17.4" r="0.56" fill="#2e2e2e"/>
<circle cx="16.0" cy="13.7" r="0.46" fill="#2e2e2e"/>
<circle cx="16.3" cy="34.0" r="0.58" fill="#2e2e2e"/>
<circle cx="47.3" cy="49.0" r="0.45" fill="#2e2e2e"/>
<circle cx="54.1" cy="54.8" r="0.52" fill="#2e2e2e"/>
<circle cx="65.0" cy="57.0" r="0.45" fill="#2e2e2e"/>
<circle cx="6.0" cy="45.0" r="0.56" fill="#2e2e2e"/>
<circle cx="23.4" cy="41.0" r="0.56" fill="#2e2e2e"/>
<circle cx="54.7" cy="0.3" r="0.47" fill="#2e2e2e"/>
<circle cx="1.1" cy="7.6" r="0.55" fill="#2e2e2e"/>
<circle cx="28.9" cy="41.7" r="0.46" fill="#2e2e2e"/>
<circle cx="23.1" cy="14.7" r="0.44" fill="#2e2e2e"/>
<circle cx="58.3" cy="42.7" r="0.42" fill="#2e2e2e"/>
<circle cx="6.1" cy="18.7" r="0.53" fill="#2e2e2e"/>
<circle cx="30.5" cy="45.6" r="0.55" fill="#2e2e2e"/>
<circle cx="8.3" cy="47.1" r="0.36" fill="#2e2e2e"/>
<circle cx="56.8" cy="12.7" r="0.42" fill="#2e2e2e"/>
<circle cx="66.1" cy="25.0" r="0.41" fill="#2e2e2e"/>
<circle cx="61.4" cy="42.1" r="0.57" fill="#2e2e2e"/>
<circle cx="27.2" cy="34.5" r="0.59" fill="#2e2e2e"/>
<circle cx="35.0" cy="68.2" r="0.40" fill="#2e2e2e"/>
<circle cx="57.3" cy="11.2" r="0.48" fill="#2e2e2e"/>
<circle cx="0.0" cy="12.1" r="0.59" fill="#2e2e2e"/>
<circle cx="31.4" cy="55.8" r="0.41" fill="#2e2e2e"/>
<circle cx="24.3" cy="7.0" r="0.49" fill="#2e2e2e"/>
<circle cx="59.5" cy="35.5" r="0.44" fill="#2e2e2e"/>
<circle cx="64.1" cy="61.7" r="0.52" fill="#2e2e2e"/>
<circle cx="5.2" cy="43.1" r="0.46" fill="#2e2e2e"/>
<circle cx="66.1" cy="25.0" r="0.52" fill="#2e2e2e"/>
<circle cx="43.6" cy="25.9" r="0.48" fill="#2e2e2e"/>
<circle cx="46.7" cy="62.6" r="0.47" fill="#2e2e2e"/>
<circle cx="25.1" cy="67.4" r="0.36" fill="#2e2e2e"/>
<circle cx="57.6" cy="47.2" r="0.49" fill="#2e2e2e"/>
<circle cx="30.9" cy="51.8" r="0.57" fill="#2e2e2e"/>
<circle cx="50.3" cy="51.7" r="0.36" fill="#2e2e2e"/>
<circle cx="22.4" cy="9.5" r="0.59" fill="#2e2e2e"/>
<circle cx="61.5" cy="10.0" r="0.50" fill="#2e2e2e"/>
<circle cx="39.8" cy="3.2" r="0.45" fill="#2e2e2e"/>
<circle cx="51.6" cy="44.3" r="0.42" fill="#2e2e2e"/>
<circle cx="52.6" cy="20.1" r="0.49" fill="#2e2e2e"/>
<circle cx="29.0" cy="67.5" r="0.51" fill="#2e2e2e"/>
<circle cx="55.5" cy="46.7" r="0.45" fill="#2e2e2e"/>
<circle cx="66.4" cy="49.0" r="0.52" fill="#2e2e2e"/>
<circle cx="19.1" cy="11.2" r="0.49" fill="#2e2e2e"/>
<circle cx="57.0" cy="54.8" r="0.44" fill="#2e2e2e"/>
<circle cx="9.7" cy="35.6" r="0.57" fill="#2e2e2e"/>
<circle cx="11.2" cy="50.9" r="0.39" fill="#2e2e2e"/>
<circle cx="21.5" cy="3.7" r="0.42" fill="#2e2e2e"/>
<circle cx="26.4" cy="66.7" r="0.59" fill="#2e2e2e"/>
<circle cx="12.9" cy="21.3" r="0.59" fill="#2e2e2e"/>
<circle cx="13.6" cy="22.1" r="0.46" fill="#2e2e2e"/>
<circle cx="7.5" cy="18.0" r="0.45" fill="#2e2e2e"/>
<circle cx="26.6" cy="66.5" r="0.42" fill="#2e2e2e"/>
<circle cx="14.1" cy="62.7" r="0.46" fill="#2e2e2e"/>
<circle cx="57.8" cy="44.0" r="0.54" fill="#2e2e2e"/>
<circle cx="21.7" cy="10.5" r="0.54" fill="#2e2e2e"/>
<circle cx="32.4" cy="38.6" r="0.52" fill="#2e2e2e"/>
<circle cx="51.9" cy="19.0" r="0.44" fill="#2e2e2e"/>
<circle cx="63.3" cy="36.5" r="0.42" fill="#2e2e2e"/>
<circle cx="43.5" cy="17.9" r="0.54" fill="#2e2e2e"/>
<circle cx="2.9" cy="57.0" r="0.49" fill="#2e2e2e"/>
<circle cx="24.4" cy="64.9" r="0.42" fill="#2e2e2e"/>
<circle cx="16.8" cy="4.8" r="0.49" fill="#2e2e2e"/>
<circle cx="52.0" cy="46.8" r="0.45" fill="#2e2e2e"/>
<circle cx="55.7" cy="7.7" r="0.43" fill="#2e2e2e"/>
<circle cx="44.5" cy="66.7" r="0.51" fill="#2e2e2e"/>
<circle cx="47.7" cy="53.4" r="0.45" fill="#2e2e2e"/>
<circle cx="64.9" cy="51.2" r="0.44" fill="#2e2e2e"/>
<circle cx="27.1" cy="55.6" r="0.44" fill="#2e2e2e"/>
<circle cx="12.8" cy="60.1" r="0.48" fill="#2e2e2e"/>
<circle cx="36.0" cy="46.2" r="0.58" fill="#2e2e2e"/>
<circle cx="9.2" cy="23.4" r="0.37" fill="#2e2e2e"/>
<circle cx="28.5" cy="34.6" r="0.56" fill="#2e2e2e"/>
<circle cx="46.1" cy="39.9" r="0.45" fill="#2e2e2e"/>
<circle cx="39.6" cy="18.9" r="0.56" fill="#2e2e2e"/>
<circle cx="54.4" cy="57.8" r="0.39" fill="#2e2e2e"/>
<circle cx="46.3" cy="52.0" r="0.48" fill="#2e2e2e"/>
<circle cx="62.0" cy="62.0" r="0.54" fill="#2e2e2e"/>
<circle cx="56.6" cy="44.8" r="0.57" fill="#2e2e2e"/>
<circle cx="9.1" cy="48.6" r="0.53" fill="#2e2e2e"/>
<circle cx="42.3" cy="19.0" r="0.37" fill="#2e2e2e"/>
<circle cx="41.6" cy="56.9" r="0.42" fill="#2e2e2e"/>
<circle cx="14.7" cy="15.4" r="0.37" fill="#2e2e2e"/>
<circle cx="46.6" cy="67.3" r="0.55" fill="#2e2e2e"/>
<circle cx="24.8" cy="48.3" r="0.37" fill="#2e2e2e"/>
<circle cx="57.9" cy="22.4" r="0.35" fill="#2e2e2e"/>
<circle cx="43.4" cy="9.6" r="0.42" fill="#2e2e2e"/>
<circle cx="4.1" cy="30.8" r="0.49" fill="#2e2e2e"/>
<circle cx="55.7" cy="2.7" r="0.56" fill="#2e2e2e"/>
<circle cx="7.6" cy="15.5" r="0.51" fill="#2e2e2e"/>
<circle cx="23.5" cy="22.8" r="0.49" fill="#2e2e2e"/>
<circle cx="15.0" cy="54.7" r="0.40" fill="#2e2e2e"/>
<circle cx="57.9" cy="55.8" r="0.48" fill="#2e2e2e"/>
<circle cx="2.1" cy="53.7" r="0.36" fill="#2e2e2e"/>
<circle cx="34.8" cy="29.2" r="0.37" fill="#2e2e2e"/>
<circle cx="43.5" cy="50.0" r="0.50" fill="#2e2e2e"/>
<circle cx="27.6" cy="35.3" r="0.50" fill="#2e2e2e"/>
<circle cx="15.6" cy="59.9" r="0.60" fill="#2e2e2e"/>
<circle cx="55.5" cy="66.3" r="0.43" fill="#2e2e2e"/>
<circle cx="68.1" cy="4.9" r="0.47" fill="#2e2e2e"/>
<circle cx="9.2" cy="31.3" r="0.52" fill="#2e2e2e"/>
<circle cx="48.9" cy="31.4" r="0.44" fill="#2e2e2e"/>
<circle cx="13.1" cy="27.8" r="0.42" fill="#2e2e2e"/>
<circle cx="13.4" cy="50.8" r="0.48" fill="#2e2e2e"/>
<circle cx="30.3" cy="13.6" r="0.53" fill="#2e2e2e"/>
<circle cx="13.6" cy="18.3" r="0.49" fill="#2e2e2e"/>
<circle cx="48.4" cy="67.1" r="0.54" fill="#2e2e2e"/>
<circle cx="65.4" cy="63.5" r="0.53" fill="#2e2e2e"/>
<circle cx="49.6" cy="4.3" r="0.40" fill="#2e2e2e"/>
<circle cx="0.9" cy="59.6" r="0.53" fill="#2e2e2e"/>
<circle cx="43.5" cy="18.2" r="0.44" fill="#2e2e2e"/>
<circle cx="11.3" cy="43.6" r="0.60" fill="#2e2e2e"/>
<circle cx="21.1" cy="3.1" r="0.39" fill="#2e2e2e"/>
<circle cx="24.5" cy="62.0" r="0.55" fill="#2e2e2e"/>
<circle cx="31.4" cy="7.0" r="0.38" fill="#2e2e2e"/>
<circle cx="10.6" cy="53.6" r="0.47" fill="#2e2e2e"/>
<circle cx="68.3" cy="62.9" r="0.55" fill="#2e2e2e"/>
<circle cx="32.9" cy="56.7" r="0.38" fill="#2e2e2e"/>
<circle cx="7.5" cy="38.9" r="0.48" fill="#2e2e2e"/>
<circle cx="14.4" cy="17.4" r="0.36" fill="#2e2e2e"/>
<circle cx="62.7" cy="49.0" r="0.59" fill="#2e2e2e"/>
<circle cx="67.7" cy="30.1" r="0.53" fill="#2e2e2e"/>
<circle cx="26.5" cy="56.0" r="0.56" fill="#2e2e2e"/>
<circle cx="9.2" cy="0.9" r="0.40" fill="#2e2e2e"/>
<circle cx="40.4" cy="26.1" r="0.35" fill="#2e2e2e"/>
<circle cx="57.3" cy="54.2" r="0.47" fill="#2e2e2e"/>
<circle cx="3.0" cy="61.3" r="0.48" fill="#2e2e2e"/>
<circle cx="4.9" cy="22.3" r="0.51" fill="#2e2e2e"/>
<circle cx="61.1" cy="33.4" r="0.51" fill="#2e2e2e"/>
<circle cx="14.2" cy="16.8" r="0.58" fill="#2e2e2e"/>
<circle cx="26.4" cy="7.2" r="0.50" fill="#2e2e2e"/>
<circle cx="8.7" cy="13.8" r="0.46" fill="#2e2e2e"/>
<circle cx="40.4" cy="43.9" r="0.53" fill="#2e2e2e"/>
<circle cx="30.3" cy="4.7" r="0.53" fill="#2e2e2e"/>
<circle cx="3.7" cy="32.5" r="0.45" fill="#2e2e2e"/>
<circle cx="46.4" cy="49.2" r="0.41" fill="#2e2e2e"/>
<circle cx="44.8" cy="47.8" r="0.47" fill="#2e2e2e"/>
<circle cx="9.8" cy="62.7" r="0.50" fill="#2e2e2e"/>
<circle cx="4.3" cy="16.5" r="0.60" fill="#2e2e2e"/>
<circle cx="15.8" cy="27.1" r="0.55" fill="#2e2e2e"/>
<circle cx="56.8" cy="43.7" r="0.54" fill="#2e2e2e"/>
<circle cx="2.6" cy="6.5" r="0.59" fill="#2e2e2e"/>
<circle cx="55.4" cy="2.6" r="0.36" fill="#2e2e2e"/>
<circle cx="16.6" cy="64.2" r="0.40" fill="#2e2e2e"/>
<circle cx="46.4" cy="64.2" r="0.51" fill="#2e2e2e"/>
<circle cx="63.4" cy="18.1" r="0.39" fill="#2e2e2e"/>
<circle cx="1.3" cy="52.2" r="0.38" fill="#2e2e2e"/>
<circle cx="67.1" cy="49.0" r="0.40" fill="#2e2e2e"/>
<circle cx="55.7" cy="11.2" r="0.48" fill="#2e2e2e"/>
<circle cx="7.3" cy="54.3" r="0.57" fill="#2e2e2e"/>
<circle cx="63.2" cy="0.2" r="0.56" fill="#2e2e2e"/>
<circle cx="38.4" cy="56.7" r="0.48" fill="#2e2e2e"/>
<circle cx="42.8" cy="41.0" r="0.55" fill="#2e2e2e"/>
<circle cx="5.4" cy="3.7" r="0.49" fill="#2e2e2e"/>
<circle cx="20.1" cy="27.4" r="0.35" fill="#2e2e2e"/>
<circle cx="51.4" cy="1.7" r="0.56" fill="#2e2e2e"/>
<circle cx="56.0" cy="31.6" r="0.38" fill="#2e2e2e"/>
<circle cx="44.9" cy="14.3" r="0.46" fill="#2e2e2e"/>
<circle cx="7.6" cy="67.4" r="0.49" fill="#2e2e2e"/>
<circle cx="24.3" cy="6.5" r="0.53" fill="#2e2e2e"/>
<circle cx="58.6" cy="58.5" r="0.38" fill="#2e2e2e"/>
<circle cx="25.4" cy="20.9" r="0.54" fill="#2e2e2e"/>
<circle cx="10.2" cy="41.8" r="0.59" fill="#2e2e2e"/>
<circle cx="53.0" cy="0.5" r="0.37" fill="#2e2e2e"/>
<circle cx="7.8" cy="47.8" r="0.50" fill="#2e2e2e"/>
<circle cx="35.9" cy="31.4" r="0.45" fill="#2e2e2e"/>
<circle cx="42.2" cy="44.8" r="0.58" fill="#2e2e2e"/>
<circle cx="50.6" cy="55.0" r="0.58" fill="#2e2e2e"/>
<circle cx="57.8" cy="49.5" r="0.36" fill="#2e2e2e"/>
<circle cx="47.0" cy="58.6" r="0.46" fill="#2e2e2e"/>
<circle cx="60.6" cy="12.4" r="0.59" fill="#2e2e2e"/>
<circle cx="30.5" cy="48.7" r="0.41" fill="#2e2e2e"/>
<circle cx="20.7" cy="24.0" r="0.43" fill="#2e2e2e"/>
<circle cx="6.5" cy="30.6" r="0.60" fill="#2e2e2e"/>
<circle cx="45.1" cy="64.3" r="0.54" fill="#2e2e2e"/>
<circle cx="57.7" cy="68.6" r="0.54" fill="#2e2e2e"/>
<circle cx="18.9" cy="17.2" r="0.45" fill="#2e2e2e"/>
<circle cx="1.4" cy="15.9" r="0.57" fill="#2e2e2e"/>
<circle cx="63.5" cy="22.7" r="0.54" fill="#2e2e2e"/>
<circle cx="53.5" cy="61.4" r="0.55" fill="#2e2e2e"/>
<circle cx="36.7" cy="7.2" r="0.56" fill="#2e2e2e"/>
<circle cx="21.6" cy="43.3" r="0.44" fill="#2e2e2e"/>
<circle cx="37.1" cy="66.6" r="0.39" fill="#2e2e2e"/>
<circle cx="36.6" cy="44.8" r="0.48" fill="#2e2e2e"/>
<circle cx="64.7" cy="28.1" r="0.58" fill="#2e2e2e"/>
<circle cx="47.6" cy="66.8" r="0.37" fill="#2e2e2e"/>
<circle cx="14.7" cy="19.8" r="0.58" fill="#2e2e2e"/>
<circle cx="0.9" cy="18.0" r="0.53" fill="#2e2e2e"/>
<circle cx="68.3" cy="12.2" r="0.46" fill="#2e2e2e"/>
<circle cx="47.4" cy="47.7" r="0.54" fill="#2e2e2e"/>
<circle cx="52.0" cy="17.1" r="0.41" fill="#2e2e2e"/>
<circle cx="1.9" cy="47.7" r="0.40" fill="#2e2e2e"/>
<circle cx="17.9" cy="66.5" r="0.51" fill="#2e2e2e"/>
<circle cx="40.8" cy="45.3" r="0.50" fill="#2e2e2e"/>
<circle cx="47.9" cy="21.0" r="0.37" fill="#2e2e2e"/>
<circle cx="4.6" cy="1.0" r="0.44" fill="#2e2e2e"/>
<circle cx="9.8" cy="7.8" r="0.47" fill="#2e2e2e"/>
<circle cx="66.9" cy="47.4" r="0.42" fill="#2e2e2e"/>
<circle cx="53.1" cy="12.3" r="0.38" fill="#2e2e2e"/>
<circle cx="20.9" cy="28.2" r="0.52" fill="#2e2e2e"/>
<circle cx="30.7" cy="50.3" r="0.37" fill="#2e2e2e"/>
<circle cx="64.3" cy="23.6" r="0.56" fill="#2e2e2e"/>
<circle cx="2.1" cy="57.2" r="0.41" fill="#2e2e2e"/>
</pattern>
<symbol id="tree" overflow="visible">
<polygon points="-5.3,-0.1 -2.8,-52.4 -0.5,-80.4 -0.2,-100.0 -1.9,-119.6 -3.6,-136.4 -4.2,-153.2 -0.2,-153.2 0.9,-136.4 2.0,-119.6 2.8,-100.0 3.4,-80.4 3.1,-52.4 5.1,-0.1" fill="#9a9a9a" stroke="#2e2e2e" stroke-width="0.7"/>
<polygon points="2.8,-84.6 6.5,-94.4 13.5,-104.2 19.9,-110.7 21.3,-109.3 15.7,-102.5 9.0,-92.7 4.2,-79.0" fill="#9a9a9a" stroke="#2e2e2e" stroke-width="0.7"/>
<path d="M-5.5 -210.2 L2.2 -207.6 L9.9 -202.8 L16.5 -199.9 L20.5 -195.5 L21.3 -190.4 L26.4 -187.8 L30.8 -182.3 L33.7 -175.7 L35.4 -170.6 L32.1 -167.1 L38.1 -163.6 L41.1 -157.4 L38.1 -152.6 L33.2 -149.5 L40.3 -146.9 L43.3 -139.4 L41.8 -131.7 L39.6 -126.2 L35.2 -121.8 L30.8 -120.7 L28.6 -117.4 L30.8 -113.0 L27.5 -109.7 L23.1 -110.8 L18.7 -108.6 L16.5 -113.0 L11.7 -116.3 L8.8 -122.9 L4.4 -129.5 L2.2 -131.7 L0.0 -128.4 L-5.5 -126.2 L-7.7 -119.6 L-9.9 -124.0 L-14.3 -126.2 L-20.9 -126.6 L-18.7 -129.5 L-13.2 -131.7 L-20.9 -131.7 L-27.5 -130.2 L-29.7 -133.9 L-28.6 -142.5 L-20.9 -143.8 L-14.7 -142.9 L-12.1 -147.8 L-5.5 -149.5 L-4.4 -159.6 L-11.0 -161.4 L-16.5 -158.1 L-20.9 -151.5 L-26.4 -150.4 L-30.8 -154.8 L-34.1 -162.5 L-33.0 -169.1 L-27.5 -173.5 L-18.7 -175.7 L-11.0 -179.0 L-9.0 -181.2 L-5.7 -187.8 L-8.1 -189.3 L-13.2 -185.6 L-20.9 -183.4 L-27.5 -182.3 L-28.6 -187.8 L-25.3 -193.3 L-18.7 -196.6 L-16.5 -201.0 L-11.0 -205.4Z M-4.0 -159.6 L7.3 -159.6 L3.3 -150.0 L-2.2 -150.4Z" fill="url(#hd)" fill-rule="evenodd" stroke="#2e2e2e" stroke-width="0.8" stroke-linejoin="round"/>
<polygon points="-1.3,-150.0 -2.9,-159.6 -2.0,-159.6 -0.2,-150.0" fill="#9a9a9a" stroke="#2e2e2e" stroke-width="0.4"/>
<polygon points="1.3,-150.0 5.1,-159.6 6.2,-159.6 2.6,-150.0" fill="#9a9a9a" stroke="#2e2e2e" stroke-width="0.4"/>
</symbol>
<symbol id="treeL" overflow="visible">
<polygon points="-5.3,-0.1 -2.8,-52.4 -0.5,-80.4 -0.2,-100.0 -1.9,-119.6 -3.6,-136.4 -4.2,-153.2 -0.2,-153.2 0.9,-136.4 2.0,-119.6 2.8,-100.0 3.4,-80.4 3.1,-52.4 5.1,-0.1" fill="#c0c0c0" stroke="#4a4a4a" stroke-width="0.7"/>
<polygon points="2.8,-84.6 6.5,-94.4 13.5,-104.2 19.9,-110.7 21.3,-109.3 15.7,-102.5 9.0,-92.7 4.2,-79.0" fill="#c0c0c0" stroke="#4a4a4a" stroke-width="0.7"/>
<path d="M-5.5 -210.2 L2.2 -207.6 L9.9 -202.8 L16.5 -199.9 L20.5 -195.5 L21.3 -190.4 L26.4 -187.8 L30.8 -182.3 L33.7 -175.7 L35.4 -170.6 L32.1 -167.1 L38.1 -163.6 L41.1 -157.4 L38.1 -152.6 L33.2 -149.5 L40.3 -146.9 L43.3 -139.4 L41.8 -131.7 L39.6 -126.2 L35.2 -121.8 L30.8 -120.7 L28.6 -117.4 L30.8 -113.0 L27.5 -109.7 L23.1 -110.8 L18.7 -108.6 L16.5 -113.0 L11.7 -116.3 L8.8 -122.9 L4.4 -129.5 L2.2 -131.7 L0.0 -128.4 L-5.5 -126.2 L-7.7 -119.6 L-9.9 -124.0 L-14.3 -126.2 L-20.9 -126.6 L-18.7 -129.5 L-13.2 -131.7 L-20.9 -131.7 L-27.5 -130.2 L-29.7 -133.9 L-28.6 -142.5 L-20.9 -143.8 L-14.7 -142.9 L-12.1 -147.8 L-5.5 -149.5 L-4.4 -159.6 L-11.0 -161.4 L-16.5 -158.1 L-20.9 -151.5 L-26.4 -150.4 L-30.8 -154.8 L-34.1 -162.5 L-33.0 -169.1 L-27.5 -173.5 L-18.7 -175.7 L-11.0 -179.0 L-9.0 -181.2 L-5.7 -187.8 L-8.1 -189.3 L-13.2 -185.6 L-20.9 -183.4 L-27.5 -182.3 L-28.6 -187.8 L-25.3 -193.3 L-18.7 -196.6 L-16.5 -201.0 L-11.0 -205.4Z M-4.0 -159.6 L7.3 -159.6 L3.3 -150.0 L-2.2 -150.4Z" fill="url(#hl)" fill-rule="evenodd" stroke="#4a4a4a" stroke-width="0.8" stroke-linejoin="round"/>
<polygon points="-1.3,-150.0 -2.9,-159.6 -2.0,-159.6 -0.2,-150.0" fill="#c0c0c0" stroke="#4a4a4a" stroke-width="0.4"/>
<polygon points="1.3,-150.0 5.1,-159.6 6.2,-159.6 2.6,-150.0" fill="#c0c0c0" stroke="#4a4a4a" stroke-width="0.4"/>
</symbol>
<symbol id="treeK" overflow="visible">
<polygon points="-5.3,-0.1 -2.8,-52.4 -0.5,-80.4 -0.2,-100.0 -1.9,-119.6 -3.6,-136.4 -4.2,-153.2 -0.2,-153.2 0.9,-136.4 2.0,-119.6 2.8,-100.0 3.4,-80.4 3.1,-52.4 5.1,-0.1" fill="#000" stroke="none" stroke-width="0.7"/>
<polygon points="2.8,-84.6 6.5,-94.4 13.5,-104.2 19.9,-110.7 21.3,-109.3 15.7,-102.5 9.0,-92.7 4.2,-79.0" fill="#000" stroke="none" stroke-width="0.7"/>
<path d="M-5.5 -210.2 L2.2 -207.6 L9.9 -202.8 L16.5 -199.9 L20.5 -195.5 L21.3 -190.4 L26.4 -187.8 L30.8 -182.3 L33.7 -175.7 L35.4 -170.6 L32.1 -167.1 L38.1 -163.6 L41.1 -157.4 L38.1 -152.6 L33.2 -149.5 L40.3 -146.9 L43.3 -139.4 L41.8 -131.7 L39.6 -126.2 L35.2 -121.8 L30.8 -120.7 L28.6 -117.4 L30.8 -113.0 L27.5 -109.7 L23.1 -110.8 L18.7 -108.6 L16.5 -113.0 L11.7 -116.3 L8.8 -122.9 L4.4 -129.5 L2.2 -131.7 L0.0 -128.4 L-5.5 -126.2 L-7.7 -119.6 L-9.9 -124.0 L-14.3 -126.2 L-20.9 -126.6 L-18.7 -129.5 L-13.2 -131.7 L-20.9 -131.7 L-27.5 -130.2 L-29.7 -133.9 L-28.6 -142.5 L-20.9 -143.8 L-14.7 -142.9 L-12.1 -147.8 L-5.5 -149.5 L-4.4 -159.6 L-11.0 -161.4 L-16.5 -158.1 L-20.9 -151.5 L-26.4 -150.4 L-30.8 -154.8 L-34.1 -162.5 L-33.0 -169.1 L-27.5 -173.5 L-18.7 -175.7 L-11.0 -179.0 L-9.0 -181.2 L-5.7 -187.8 L-8.1 -189.3 L-13.2 -185.6 L-20.9 -183.4 L-27.5 -182.3 L-28.6 -187.8 L-25.3 -193.3 L-18.7 -196.6 L-16.5 -201.0 L-11.0 -205.4Z M-4.0 -159.6 L7.3 -159.6 L3.3 -150.0 L-2.2 -150.4Z" fill="rgba(0,0,0,0.08)" fill-rule="evenodd" stroke="none" stroke-width="0.8" stroke-linejoin="round"/>
</symbol>
<filter id="soft" x="-2%" y="-2%" width="104%" height="104%"><feGaussianBlur stdDeviation="0.35"/></filter>
</defs>
<rect width="900" height="500" fill="#fff"/>
<clipPath id="cl"><rect x="480" y="0" width="140" height="120"/></clipPath><g clip-path="url(#cl)"><use href="#treeL" x="542.7" y="217.4"/></g>
<line x1="36.2" y1="94.2" x2="236.0" y2="94.2" stroke="#555" stroke-width="0.80" />
<line x1="36.2" y1="94.2" x2="36.2" y2="216.2" stroke="#555" stroke-width="0.80" />
<polygon points="112,216.2 233,94.3 236,94.3 236,216.2" fill="#8f8f8f"/>
<text x="42.3" y="93.7" font-size="5.15" fill="#222" text-anchor="start" >+7.80</text>
<text x="62.7" y="93.7" font-size="5.25" fill="#222" text-anchor="start" >EXISTANT</text>
<rect x="236.0" y="90.7" width="617.6" height="125.5" fill="#fff"/>
<path d="M238.80 159.6V216.2M243.83 159.6V216.2M248.86 159.6V216.2M253.89 159.6V216.2M258.92 159.6V216.2M263.95 159.6V216.2M268.98 159.6V216.2M274.01 159.6V216.2M279.04 159.6V216.2M284.07 159.6V216.2M289.10 159.6V216.2M294.13 159.6V216.2M299.16 159.6V216.2M304.19 159.6V216.2M309.22 159.6V216.2M314.25 159.6V216.2M319.28 159.6V216.2M324.31 159.6V216.2M329.34 159.6V216.2M334.37 159.6V216.2M339.40 159.6V216.2M344.43 159.6V216.2M349.46 159.6V216.2M354.49 159.6V216.2M359.52 159.6V216.2M364.55 159.6V216.2M369.58 159.6V216.2M374.61 159.6V216.2M379.64 159.6V216.2M384.67 159.6V216.2M389.70 159.6V216.2M394.73 159.6V216.2M399.76 159.6V216.2M404.79 159.6V216.2M409.82 159.6V216.2M414.85 159.6V216.2M419.88 159.6V216.2M424.91 159.6V216.2M429.94 159.6V216.2M434.97 159.6V216.2M440.00 159.6V216.2M445.03 159.6V216.2M450.06 159.6V216.2M455.09 159.6V216.2M460.12 159.6V216.2M465.15 159.6V216.2M470.18 159.6V216.2M475.21 159.6V216.2M480.24 159.6V216.2M485.27 159.6V216.2M490.30 159.6V216.2M495.33 159.6V216.2M500.36 159.6V216.2M505.39 159.6V216.2M510.42 159.6V216.2M515.45 159.6V216.2M520.48 159.6V216.2M525.51 159.6V216.2M530.54 159.6V216.2M535.57 159.6V216.2M540.60 159.6V216.2M545.63 159.6V216.2M550.66 159.6V216.2M555.69 159.6V216.2M560.72 159.6V216.2M565.75 159.6V216.2M570.78 159.6V216.2M575.81 159.6V216.2M580.84 159.6V216.2M585.87 159.6V216.2M590.90 159.6V216.2M595.93 159.6V216.2M600.96 159.6V216.2M605.99 159.6V216.2M611.02 159.6V216.2M616.05 159.6V216.2M621.08 159.6V216.2M626.11 159.6V216.2M631.14 159.6V216.2M636.17 159.6V216.2M641.20 159.6V216.2M646.23 159.6V216.2M651.26 159.6V216.2M656.29 159.6V216.2M661.32 159.6V216.2M666.35 159.6V216.2M671.38 159.6V216.2M676.41 159.6V216.2M681.44 159.6V216.2M686.47 159.6V216.2M691.50 159.6V216.2M696.53 159.6V216.2M701.56 159.6V216.2M706.59 159.6V216.2M711.62 159.6V216.2M716.65 159.6V216.2M721.68 159.6V216.2M726.71 159.6V216.2M731.74 159.6V216.2M736.77 159.6V216.2M741.80 159.6V216.2M746.83 159.6V216.2M751.86 159.6V216.2M756.89 159.6V216.2M761.92 159.6V216.2M766.95 159.6V216.2M771.98 159.6V216.2M777.01 159.6V216.2M782.04 159.6V216.2M787.07 159.6V216.2M792.10 159.6V216.2M797.13 159.6V216.2M802.16 159.6V216.2M807.19 159.6V216.2M812.22 159.6V216.2M817.25 159.6V216.2M822.28 159.6V216.2M827.31 159.6V216.2M832.34 159.6V216.2M837.37 159.6V216.2M842.40 159.6V216.2M847.43 159.6V216.2" stroke="#555" stroke-width="1.0" fill="none"/>
<line x1="851.4" y1="159.6" x2="851.4" y2="216.2" stroke="#444" stroke-width="1.00" />
<rect x="276.5" y="182.9" width="14.6" height="33.3" fill="#fff" stroke="#666" stroke-width="1.1"/>
<rect x="287.5" y="183.7" width="3.1" height="32.5" fill="#b0b0b0"/>
<rect x="278.1" y="184.6" width="9.2" height="31.6" fill="none" stroke="#999" stroke-width="0.6"/>
<rect x="366.3" y="182.9" width="14.1" height="33.3" fill="#fff" stroke="#666" stroke-width="1.1"/>
<rect x="376.8" y="183.7" width="3.1" height="32.5" fill="#b0b0b0"/>
<rect x="367.9" y="184.6" width="8.7" height="31.6" fill="none" stroke="#999" stroke-width="0.6"/>
<rect x="459.6" y="182.9" width="10.4" height="33.3" fill="#fff" stroke="#666" stroke-width="1.1"/>
<rect x="466.4" y="183.7" width="3.1" height="32.5" fill="#b0b0b0"/>
<rect x="461.2" y="184.6" width="5.0" height="31.6" fill="none" stroke="#999" stroke-width="0.6"/>
<rect x="545.0" y="182.9" width="14.0" height="33.3" fill="#fff" stroke="#666" stroke-width="1.1"/>
<rect x="555.4" y="183.7" width="3.1" height="32.5" fill="#b0b0b0"/>
<rect x="546.6" y="184.6" width="8.6" height="31.6" fill="none" stroke="#999" stroke-width="0.6"/>
<use href="#tree" x="149.5" y="216.2"/>
<use href="#tree" x="296.4" y="216.2"/>
<use href="#tree" x="454.7" y="216.2"/>
<use href="#tree" x="642.5" y="216.2"/>
<use href="#tree" x="786.5" y="216.2"/>
<use href="#tree" x="-35.8" y="216.2"/>
<path d="M0 199 L4 198 L6 202 L5 212 L0 213 Z" fill="#555" stroke="#222" stroke-width="0.6"/>
<g clip-path="inset(0)"><use href="#tree" x="916" y="216.2"/></g>
<clipPath id="c236"><rect x="236.0" y="90.7" width="617.6" height="68.9"/></clipPath>
<g clip-path="url(#c236)" opacity="0.42">
<use href="#treeK" transform="translate(149.5 216.2) scale(1.000 1.000)"/>
<use href="#treeK" transform="translate(296.4 216.2) scale(1.000 1.000)"/>
<use href="#treeK" transform="translate(454.7 216.2) scale(1.000 1.000)"/>
<use href="#treeK" transform="translate(642.5 216.2) scale(1.000 1.000)"/>
<use href="#treeK" transform="translate(786.5 216.2) scale(1.000 1.000)"/>
</g>
<text x="250.0" y="131.0" font-size="9.00" fill="#2b3990" text-anchor="start" transform="rotate(-90 250.0 131.0)" stroke="#2b3990" stroke-width="0.2" fill-opacity="0.75" stroke-opacity="0.75">100</text>
<text x="250.0" y="153.6" font-size="9.00" fill="#2b3990" text-anchor="start" transform="rotate(-90 250.0 153.6)" stroke="#2b3990" stroke-width="0.2" fill-opacity="0.75" stroke-opacity="0.75">180</text>
<text x="337.0" y="131.0" font-size="9.00" fill="#2b3990" text-anchor="start" transform="rotate(-90 337.0 131.0)" stroke="#2b3990" stroke-width="0.2" fill-opacity="0.75" stroke-opacity="0.75">100</text>
<text x="337.0" y="153.6" font-size="9.00" fill="#2b3990" text-anchor="start" transform="rotate(-90 337.0 153.6)" stroke="#2b3990" stroke-width="0.2" fill-opacity="0.75" stroke-opacity="0.75">180</text>
<text x="426.0" y="131.0" font-size="9.00" fill="#2b3990" text-anchor="start" transform="rotate(-90 426.0 131.0)" stroke="#2b3990" stroke-width="0.2" fill-opacity="0.75" stroke-opacity="0.75">100</text>
<text x="426.0" y="153.6" font-size="9.00" fill="#2b3990" text-anchor="start" transform="rotate(-90 426.0 153.6)" stroke="#2b3990" stroke-width="0.2" fill-opacity="0.75" stroke-opacity="0.75">180</text>
<text x="518.5" y="131.0" font-size="9.00" fill="#2b3990" text-anchor="start" transform="rotate(-90 518.5 131.0)" stroke="#2b3990" stroke-width="0.2" fill-opacity="0.75" stroke-opacity="0.75">100</text>
<text x="518.5" y="153.6" font-size="9.00" fill="#2b3990" text-anchor="start" transform="rotate(-90 518.5 153.6)" stroke="#2b3990" stroke-width="0.2" fill-opacity="0.75" stroke-opacity="0.75">180</text>
<text x="670.0" y="131.0" font-size="9.00" fill="#2b3990" text-anchor="start" transform="rotate(-90 670.0 131.0)" stroke="#2b3990" stroke-width="0.2" fill-opacity="0.75" stroke-opacity="0.75">100</text>
<text x="670.0" y="153.6" font-size="9.00" fill="#2b3990" text-anchor="start" transform="rotate(-90 670.0 153.6)" stroke="#2b3990" stroke-width="0.2" fill-opacity="0.75" stroke-opacity="0.75">180</text>
<text x="770.0" y="131.0" font-size="9.00" fill="#2b3990" text-anchor="start" transform="rotate(-90 770.0 131.0)" stroke="#2b3990" stroke-width="0.2" fill-opacity="0.75" stroke-opacity="0.75">100</text>
<text x="770.0" y="153.6" font-size="9.00" fill="#2b3990" text-anchor="start" transform="rotate(-90 770.0 153.6)" stroke="#2b3990" stroke-width="0.2" fill-opacity="0.75" stroke-opacity="0.75">180</text>
<text x="807.0" y="131.0" font-size="9.00" fill="#2b3990" text-anchor="start" transform="rotate(-90 807.0 131.0)" stroke="#2b3990" stroke-width="0.2" fill-opacity="0.75" stroke-opacity="0.75">100</text>
<text x="807.0" y="153.6" font-size="9.00" fill="#2b3990" text-anchor="start" transform="rotate(-90 807.0 153.6)" stroke="#2b3990" stroke-width="0.2" fill-opacity="0.75" stroke-opacity="0.75">180</text>
<text x="842.5" y="131.0" font-size="9.00" fill="#2b3990" text-anchor="start" transform="rotate(-90 842.5 131.0)" stroke="#2b3990" stroke-width="0.2" fill-opacity="0.75" stroke-opacity="0.75">100</text>
<text x="842.5" y="153.6" font-size="9.00" fill="#2b3990" text-anchor="start" transform="rotate(-90 842.5 153.6)" stroke="#2b3990" stroke-width="0.2" fill-opacity="0.75" stroke-opacity="0.75">180</text>
<text x="283.2" y="129.3" font-size="9.00" fill="#2b3990" text-anchor="middle" stroke="#2b3990" stroke-width="0.2" fill-opacity="0.75" stroke-opacity="0.75">522</text>
<text x="372.0" y="129.3" font-size="9.00" fill="#2b3990" text-anchor="middle" stroke="#2b3990" stroke-width="0.2" fill-opacity="0.75" stroke-opacity="0.75">436</text>
<text x="460.0" y="129.3" font-size="9.00" fill="#2b3990" text-anchor="middle" stroke="#2b3990" stroke-width="0.2" fill-opacity="0.75" stroke-opacity="0.75">486</text>
<text x="583.7" y="129.3" font-size="9.00" fill="#2b3990" text-anchor="middle" stroke="#2b3990" stroke-width="0.2" fill-opacity="0.75" stroke-opacity="0.75">936</text>
<text x="709.0" y="129.3" font-size="9.00" fill="#2b3990" text-anchor="middle" stroke="#2b3990" stroke-width="0.2" fill-opacity="0.75" stroke-opacity="0.75">600</text>
<text x="283.6" y="206.7" font-size="9.00" fill="#2b3990" text-anchor="start" transform="rotate(-90 283.6 206.7)" stroke="#2b3990" stroke-width="0.3">210</text>
<text x="372.9" y="206.7" font-size="9.00" fill="#2b3990" text-anchor="start" transform="rotate(-90 372.9 206.7)" stroke="#2b3990" stroke-width="0.3">210</text>
<text x="461.0" y="206.7" font-size="9.00" fill="#2b3990" text-anchor="start" transform="rotate(-90 461.0 206.7)" stroke="#2b3990" stroke-width="0.3">210</text>
<text x="549.0" y="206.7" font-size="9.00" fill="#2b3990" text-anchor="start" transform="rotate(-90 549.0 206.7)" stroke="#2b3990" stroke-width="0.3">210</text>
<rect x="236.0" y="90.7" width="617.6" height="68.9" fill="url(#mesh)" filter="url(#soft)" style="mix-blend-mode:multiply"/>
<rect x="236.0" y="90.7" width="617.6" height="68.9" fill="none" stroke="#222" stroke-width="0.9"/>
<line x1="270.5" y1="90.7" x2="270.5" y2="159.6" stroke="#2a2a2a" stroke-width="0.70" />
<line x1="304.9" y1="90.7" x2="304.9" y2="159.6" stroke="#2a2a2a" stroke-width="0.70" />
<line x1="339.4" y1="90.7" x2="339.4" y2="159.6" stroke="#2a2a2a" stroke-width="0.70" />
<line x1="373.8" y1="90.7" x2="373.8" y2="159.6" stroke="#2a2a2a" stroke-width="0.70" />
<line x1="408.3" y1="90.7" x2="408.3" y2="159.6" stroke="#2a2a2a" stroke-width="0.70" />
<line x1="442.7" y1="90.7" x2="442.7" y2="159.6" stroke="#2a2a2a" stroke-width="0.70" />
<line x1="477.2" y1="90.7" x2="477.2" y2="159.6" stroke="#2a2a2a" stroke-width="0.70" />
<line x1="511.6" y1="90.7" x2="511.6" y2="159.6" stroke="#2a2a2a" stroke-width="0.70" />
<line x1="546.1" y1="90.7" x2="546.1" y2="159.6" stroke="#2a2a2a" stroke-width="0.70" />
<line x1="580.5" y1="90.7" x2="580.5" y2="159.6" stroke="#2a2a2a" stroke-width="0.70" />
<line x1="615.0" y1="90.7" x2="615.0" y2="159.6" stroke="#2a2a2a" stroke-width="0.70" />
<line x1="649.5" y1="90.7" x2="649.5" y2="159.6" stroke="#2a2a2a" stroke-width="0.70" />
<line x1="683.9" y1="90.7" x2="683.9" y2="159.6" stroke="#2a2a2a" stroke-width="0.70" />
<line x1="718.4" y1="90.7" x2="718.4" y2="159.6" stroke="#2a2a2a" stroke-width="0.70" />
<line x1="752.8" y1="90.7" x2="752.8" y2="159.6" stroke="#2a2a2a" stroke-width="0.70" />
<line x1="787.3" y1="90.7" x2="787.3" y2="159.6" stroke="#2a2a2a" stroke-width="0.70" />
<line x1="821.7" y1="90.7" x2="821.7" y2="159.6" stroke="#2a2a2a" stroke-width="0.70" />
<line x1="236.0" y1="159.9" x2="853.6" y2="159.9" stroke="#222" stroke-width="1.20" />
<rect x="242.8" y="116.2" width="81.0" height="15.1" fill="rgba(210,215,245,0.14)" stroke="#1a1a1a" stroke-width="1.5"/>
<line x1="242.8" y1="129.3" x2="323.8" y2="129.3" stroke="#2b3990" stroke-width="1.00" stroke-opacity="0.6"/>
<rect x="329.4" y="116.2" width="84.6" height="15.1" fill="rgba(210,215,245,0.14)" stroke="#1a1a1a" stroke-width="1.5"/>
<line x1="329.4" y1="129.3" x2="414.0" y2="129.3" stroke="#2b3990" stroke-width="1.00" stroke-opacity="0.6"/>
<rect x="416.7" y="116.2" width="87.1" height="15.1" fill="rgba(210,215,245,0.14)" stroke="#1a1a1a" stroke-width="1.5"/>
<line x1="416.7" y1="129.3" x2="503.8" y2="129.3" stroke="#2b3990" stroke-width="1.00" stroke-opacity="0.6"/>
<rect x="509.0" y="116.2" width="146.6" height="15.1" fill="rgba(210,215,245,0.14)" stroke="#1a1a1a" stroke-width="1.5"/>
<line x1="509.0" y1="129.3" x2="655.6" y2="129.3" stroke="#2b3990" stroke-width="1.00" stroke-opacity="0.6"/>
<rect x="660.9" y="116.2" width="94.1" height="15.1" fill="rgba(210,215,245,0.14)" stroke="#1a1a1a" stroke-width="1.5"/>
<line x1="660.9" y1="129.3" x2="755.0" y2="129.3" stroke="#2b3990" stroke-width="1.00" stroke-opacity="0.6"/>
<rect x="759.5" y="116.2" width="90.5" height="15.1" fill="rgba(210,215,245,0.14)" stroke="#1a1a1a" stroke-width="1.5"/>
<line x1="759.5" y1="129.3" x2="850.0" y2="129.3" stroke="#2b3990" stroke-width="1.00" stroke-opacity="0.6"/>
<line x1="0.0" y1="116.0" x2="890.5" y2="116.0" stroke="#3a3a3a" stroke-width="0.90" />
<line x1="0.0" y1="131.5" x2="890.5" y2="131.5" stroke="#3a3a3a" stroke-width="0.90" />
<line x1="36.0" y1="216.2" x2="890.0" y2="216.2" stroke="#222" stroke-width="1.00" />
<line x1="35.8" y1="94.3" x2="236.0" y2="94.3" stroke="#555" stroke-width="0.70" />
<path d="M513.2 216.2 A9.3 9.5 0 0 1 531.8 216.2" fill="#fff" stroke="#333" stroke-width="0.7"/>
<text x="522.5" y="214.8" font-size="4.60" fill="#333" text-anchor="middle" >±0.00</text>
<path d="M370.2 144.0 l3.8 -10 l2.2 0 l3.6 10 l-2.5 0 l-2.2 -5 l-2.3 5 z" fill="#3c3c3c" stroke="#222" stroke-width="0.5" opacity="0.9"/>
<path d="M623.7 144.5 l3.8 -10 l2.2 0 l3.6 10 l-2.5 0 l-2.2 -5 l-2.3 5 z" fill="#3c3c3c" stroke="#222" stroke-width="0.5" opacity="0.9"/>
<rect x="761.8" y="182.9" width="3.3" height="33" fill="#999" stroke="#555" stroke-width="0.5"/>
<rect x="800.1" y="182.9" width="3.3" height="33" fill="#999" stroke="#555" stroke-width="0.5"/>
<rect x="816.9" y="182.9" width="3.3" height="33" fill="#999" stroke="#555" stroke-width="0.5"/>
<line x1="366.5" y1="44.0" x2="366.5" y2="116.0" stroke="#3a3a3a" stroke-width="0.90" />
<text x="367.2" y="50.7" font-size="5.60" fill="#1c1c1c" text-anchor="start" stroke="#1c1c1c" stroke-width="0.18">MENUISERIES</text>
<text x="367.2" y="57.3" font-size="5.60" fill="#1c1c1c" text-anchor="start" stroke="#1c1c1c" stroke-width="0.18">ALUMUNIUM</text>
<text x="367.2" y="63.9" font-size="5.60" fill="#1c1c1c" text-anchor="start" stroke="#1c1c1c" stroke-width="0.18">RAL 9005</text>
<line x1="498.5" y1="44.0" x2="498.5" y2="91.0" stroke="#3a3a3a" stroke-width="0.90" />
<text x="499.4" y="50.7" font-size="5.60" fill="#1c1c1c" text-anchor="start" stroke="#1c1c1c" stroke-width="0.18">RESILLE METALLIQUE</text>
<text x="499.4" y="57.3" font-size="5.60" fill="#1c1c1c" text-anchor="start" stroke="#1c1c1c" stroke-width="0.18">ACCROCHE SUR FACADE</text>
<text x="499.4" y="63.9" font-size="5.60" fill="#1c1c1c" text-anchor="start" stroke="#1c1c1c" stroke-width="0.18">RAL 7044</text>
<line x1="577.5" y1="44.0" x2="577.5" y2="91.0" stroke="#3a3a3a" stroke-width="0.90" />
<text x="578.0" y="50.7" font-size="5.60" fill="#1c1c1c" text-anchor="start" stroke="#1c1c1c" stroke-width="0.18">BAC ACIER</text>
<text x="578.0" y="57.3" font-size="5.60" fill="#1c1c1c" text-anchor="start" stroke="#1c1c1c" stroke-width="0.18">RAL 5008</text>
<line x1="695.5" y1="44.0" x2="695.5" y2="91.0" stroke="#3a3a3a" stroke-width="0.90" />
<text x="695.8" y="50.7" font-size="5.60" fill="#1c1c1c" text-anchor="start" stroke="#1c1c1c" stroke-width="0.18">TOITURE BAC ACIER</text>
<text x="695.8" y="57.3" font-size="5.60" fill="#1c1c1c" text-anchor="start" stroke="#1c1c1c" stroke-width="0.18">PENTE 8%</text>
<text x="695.8" y="63.9" font-size="5.60" fill="#1c1c1c" text-anchor="start" stroke="#1c1c1c" stroke-width="0.18">RAL 5008</text>
<clipPath id="cl2"><rect x="480" y="0" width="140" height="90.2"/></clipPath><g clip-path="url(#cl2)" opacity="0.5"><use href="#treeL" x="542.7" y="217.4"/></g>
<text x="862.0" y="90.3" font-size="5.85" fill="#222" text-anchor="start" >+8.00</text>
<line x1="864.0" y1="91.2" x2="877.5" y2="91.2" stroke="#333" stroke-width="0.60" />
<text x="216.0" y="214.8" font-size="5.00" fill="#222" text-anchor="start" >TN=TP</text>
<line x1="822.6" y1="50.0" x2="822.6" y2="216.2" stroke="#111" stroke-width="1.50" stroke-dasharray="11.2 2.5"/>
<text x="819.5" y="88.0" font-size="4.20" fill="#222" text-anchor="start" transform="rotate(-90 819.5 88.0)" >LIMITE DE PROPRIETE</text>
<text x="248.5" y="244.0" font-size="11.20" fill="#222" text-anchor="start" stroke="#222" stroke-width="0.5">ELEVATION OUES<tspan fill="#9a9a9a" stroke="#9a9a9a">T</tspan></text>
<rect x="146.4" y="354.4" width="491.4" height="126.3" fill="#fff"/>
<path d="M146.86 423.8V480.7M151.87 423.8V480.7M156.88 423.8V480.7M161.89 423.8V480.7M166.90 423.8V480.7M171.91 423.8V480.7M176.92 423.8V480.7M181.93 423.8V480.7M186.94 423.8V480.7M191.95 423.8V480.7M196.96 423.8V480.7M201.97 423.8V480.7M206.98 423.8V480.7M211.99 423.8V480.7M217.00 423.8V480.7M222.01 423.8V480.7M227.02 423.8V480.7M232.03 423.8V480.7M237.04 423.8V480.7M242.05 423.8V480.7M247.06 423.8V480.7M252.07 423.8V480.7M257.08 423.8V480.7M262.09 423.8V480.7M267.10 423.8V480.7M272.11 423.8V480.7M277.12 423.8V480.7M282.13 423.8V480.7M287.14 423.8V480.7M292.15 423.8V480.7M297.16 423.8V480.7M302.17 423.8V480.7M307.18 423.8V480.7M312.19 423.8V480.7M317.20 423.8V480.7M322.21 423.8V480.7M327.22 423.8V480.7M332.23 423.8V480.7M337.24 423.8V480.7M342.25 423.8V480.7M347.26 423.8V480.7M352.27 423.8V480.7M357.28 423.8V480.7M362.29 423.8V480.7M367.30 423.8V480.7M372.31 423.8V480.7M377.32 423.8V480.7M382.33 423.8V480.7M387.34 423.8V480.7M392.35 423.8V480.7M397.36 423.8V480.7M402.37 423.8V480.7M407.38 423.8V480.7M412.39 423.8V480.7M417.40 423.8V480.7M422.41 423.8V480.7M427.42 423.8V480.7M432.43 423.8V480.7M437.44 423.8V480.7M442.45 423.8V480.7M447.46 423.8V480.7M452.47 423.8V480.7M457.48 423.8V480.7M462.49 423.8V480.7M467.50 423.8V480.7M472.51 423.8V480.7M477.52 423.8V480.7M482.53 423.8V480.7M487.54 423.8V480.7M492.55 423.8V480.7M497.56 423.8V480.7M502.57 423.8V480.7M507.58 423.8V480.7M512.59 423.8V480.7M517.60 423.8V480.7M522.61 423.8V480.7M527.62 423.8V480.7M532.63 423.8V480.7M537.64 423.8V480.7M542.65 423.8V480.7M547.66 423.8V480.7M552.67 423.8V480.7M557.68 423.8V480.7M562.69 423.8V480.7M567.70 423.8V480.7M572.71 423.8V480.7M577.72 423.8V480.7M582.73 423.8V480.7M587.74 423.8V480.7M592.75 423.8V480.7M597.76 423.8V480.7M602.77 423.8V480.7M607.78 423.8V480.7M612.79 423.8V480.7M617.80 423.8V480.7M622.81 423.8V480.7M627.82 423.8V480.7M632.83 423.8V480.7" stroke="#555" stroke-width="1.0" fill="none"/>
<line x1="635.6" y1="423.8" x2="635.6" y2="480.7" stroke="#444" stroke-width="1.00" />
<rect x="154.4" y="447.4" width="18.0" height="33.3" fill="#fff" stroke="#666" stroke-width="1.1"/>
<rect x="168.8" y="448.2" width="3.1" height="32.5" fill="#b0b0b0"/>
<rect x="156.0" y="449.1" width="12.6" height="31.6" fill="none" stroke="#999" stroke-width="0.6"/>
<rect x="360.0" y="447.4" width="16.4" height="33.3" fill="#fff" stroke="#666" stroke-width="1.1"/>
<rect x="372.8" y="448.2" width="3.1" height="32.5" fill="#b0b0b0"/>
<rect x="361.6" y="449.1" width="11.0" height="31.6" fill="none" stroke="#999" stroke-width="0.6"/>
<rect x="448.0" y="447.4" width="15.6" height="33.3" fill="#fff" stroke="#666" stroke-width="1.1"/>
<rect x="460.0" y="448.2" width="3.1" height="32.5" fill="#b0b0b0"/>
<rect x="449.6" y="449.1" width="10.2" height="31.6" fill="none" stroke="#999" stroke-width="0.6"/>
<clipPath id="cb"><rect x="0" y="278.8" width="900" height="230"/></clipPath><g clip-path="url(#cb)">
<use href="#tree" transform="translate(104.2 480.7) scale(1.000 1.000)"/>
<use href="#tree" transform="translate(238.2 480.7) scale(1.000 1.000)"/>
<use href="#tree" transform="translate(385.7 480.7) scale(1.000 1.000)"/>
<use href="#tree" transform="translate(506.6 480.7) scale(1.000 1.000)"/>
<use href="#tree" transform="translate(631.0 480.7) scale(1.000 1.000)"/>
<use href="#tree" transform="translate(726.5 480.7) scale(1.000 1.000)"/>
</g>
<clipPath id="c146"><rect x="146.4" y="354.4" width="491.4" height="69.4"/></clipPath>
<g clip-path="url(#c146)" opacity="0.42">
<use href="#treeK" transform="translate(104.2 480.7) scale(1.000 1.000)"/>
<use href="#treeK" transform="translate(238.2 480.7) scale(1.000 1.000)"/>
<use href="#treeK" transform="translate(385.7 480.7) scale(1.000 1.000)"/>
<use href="#treeK" transform="translate(506.6 480.7) scale(1.000 1.000)"/>
<use href="#treeK" transform="translate(631.0 480.7) scale(1.000 1.000)"/>
<use href="#treeK" transform="translate(726.5 480.7) scale(1.000 1.000)"/>
</g>
<text x="161.5" y="395.3" font-size="9.00" fill="#2b3990" text-anchor="start" transform="rotate(-90 161.5 395.3)" stroke="#2b3990" stroke-width="0.2" fill-opacity="0.75" stroke-opacity="0.75">100</text>
<text x="161.5" y="417.9" font-size="9.00" fill="#2b3990" text-anchor="start" transform="rotate(-90 161.5 417.9)" stroke="#2b3990" stroke-width="0.2" fill-opacity="0.75" stroke-opacity="0.75">180</text>
<text x="362.5" y="395.3" font-size="9.00" fill="#2b3990" text-anchor="start" transform="rotate(-90 362.5 395.3)" stroke="#2b3990" stroke-width="0.2" fill-opacity="0.75" stroke-opacity="0.75">100</text>
<text x="362.5" y="417.9" font-size="9.00" fill="#2b3990" text-anchor="start" transform="rotate(-90 362.5 417.9)" stroke="#2b3990" stroke-width="0.2" fill-opacity="0.75" stroke-opacity="0.75">180</text>
<text x="452.0" y="395.3" font-size="9.00" fill="#2b3990" text-anchor="start" transform="rotate(-90 452.0 395.3)" stroke="#2b3990" stroke-width="0.2" fill-opacity="0.75" stroke-opacity="0.75">100</text>
<text x="452.0" y="417.9" font-size="9.00" fill="#2b3990" text-anchor="start" transform="rotate(-90 452.0 417.9)" stroke="#2b3990" stroke-width="0.2" fill-opacity="0.75" stroke-opacity="0.75">180</text>
<text x="247.5" y="393.6" font-size="9.00" fill="#2b3990" text-anchor="middle" stroke="#2b3990" stroke-width="0.2" fill-opacity="0.75" stroke-opacity="0.75">2852</text>
<text x="395.0" y="393.6" font-size="9.00" fill="#2b3990" text-anchor="middle" stroke="#2b3990" stroke-width="0.2" fill-opacity="0.75" stroke-opacity="0.75">824</text>
<text x="535.5" y="393.6" font-size="9.00" fill="#2b3990" text-anchor="middle" stroke="#2b3990" stroke-width="0.2" fill-opacity="0.75" stroke-opacity="0.75">1181</text>
<text x="162.0" y="471.2" font-size="9.00" fill="#2b3990" text-anchor="start" transform="rotate(-90 162.0 471.2)" stroke="#2b3990" stroke-width="0.3">210</text>
<text x="368.4" y="471.2" font-size="9.00" fill="#2b3990" text-anchor="start" transform="rotate(-90 368.4 471.2)" stroke="#2b3990" stroke-width="0.3">210</text>
<text x="456.0" y="471.2" font-size="9.00" fill="#2b3990" text-anchor="start" transform="rotate(-90 456.0 471.2)" stroke="#2b3990" stroke-width="0.3">210</text>
<rect x="146.4" y="354.4" width="491.4" height="69.4" fill="url(#mesh)" filter="url(#soft)" style="mix-blend-mode:multiply"/>
<rect x="146.4" y="354.4" width="491.4" height="69.4" fill="none" stroke="#222" stroke-width="0.9"/>
<line x1="181.2" y1="354.4" x2="181.2" y2="423.8" stroke="#2a2a2a" stroke-width="0.70" />
<line x1="215.6" y1="354.4" x2="215.6" y2="423.8" stroke="#2a2a2a" stroke-width="0.70" />
<line x1="250.1" y1="354.4" x2="250.1" y2="423.8" stroke="#2a2a2a" stroke-width="0.70" />
<line x1="284.5" y1="354.4" x2="284.5" y2="423.8" stroke="#2a2a2a" stroke-width="0.70" />
<line x1="319.0" y1="354.4" x2="319.0" y2="423.8" stroke="#2a2a2a" stroke-width="0.70" />
<line x1="353.4" y1="354.4" x2="353.4" y2="423.8" stroke="#2a2a2a" stroke-width="0.70" />
<line x1="387.9" y1="354.4" x2="387.9" y2="423.8" stroke="#2a2a2a" stroke-width="0.70" />
<line x1="422.3" y1="354.4" x2="422.3" y2="423.8" stroke="#2a2a2a" stroke-width="0.70" />
<line x1="456.8" y1="354.4" x2="456.8" y2="423.8" stroke="#2a2a2a" stroke-width="0.70" />
<line x1="491.2" y1="354.4" x2="491.2" y2="423.8" stroke="#2a2a2a" stroke-width="0.70" />
<line x1="525.7" y1="354.4" x2="525.7" y2="423.8" stroke="#2a2a2a" stroke-width="0.70" />
<line x1="560.1" y1="354.4" x2="560.1" y2="423.8" stroke="#2a2a2a" stroke-width="0.70" />
<line x1="594.6" y1="354.4" x2="594.6" y2="423.8" stroke="#2a2a2a" stroke-width="0.70" />
<line x1="629.1" y1="354.4" x2="629.1" y2="423.8" stroke="#2a2a2a" stroke-width="0.70" />
<line x1="146.4" y1="424.1" x2="637.8" y2="424.1" stroke="#222" stroke-width="1.20" />
<rect x="152.1" y="380.2" width="197.3" height="15.4" fill="rgba(210,215,245,0.14)" stroke="#1a1a1a" stroke-width="1.5"/>
<line x1="152.1" y1="393.6" x2="349.4" y2="393.6" stroke="#2b3990" stroke-width="1.00" stroke-opacity="0.6"/>
<rect x="356.1" y="380.2" width="81.6" height="15.4" fill="rgba(210,215,245,0.14)" stroke="#1a1a1a" stroke-width="1.5"/>
<line x1="356.1" y1="393.6" x2="437.7" y2="393.6" stroke="#2b3990" stroke-width="1.00" stroke-opacity="0.6"/>
<rect x="443.4" y="380.2" width="181.2" height="15.4" fill="rgba(210,215,245,0.14)" stroke="#1a1a1a" stroke-width="1.5"/>
<line x1="443.4" y1="393.6" x2="624.6" y2="393.6" stroke="#2b3990" stroke-width="1.00" stroke-opacity="0.6"/>
<line x1="0.0" y1="379.8" x2="890.5" y2="379.8" stroke="#3a3a3a" stroke-width="0.90" />
<line x1="0.0" y1="395.8" x2="890.5" y2="395.8" stroke="#3a3a3a" stroke-width="0.90" />
<line x1="0.0" y1="480.7" x2="890.0" y2="480.7" stroke="#222" stroke-width="1.00" />
<path d="M419.7 480.7 A9.3 9.5 0 0 1 438.3 480.7" fill="#fff" stroke="#333" stroke-width="0.7"/>
<text x="429.0" y="479.3" font-size="4.60" fill="#333" text-anchor="middle" >±0.00</text>
<path d="M300.2 407.5 l3.8 -10 l2.2 0 l3.6 10 l-2.5 0 l-2.2 -5 l-2.3 5 z" fill="#3c3c3c" stroke="#222" stroke-width="0.5" opacity="0.9"/>
<path d="M547.2 407.5 l3.8 -10 l2.2 0 l3.6 10 l-2.5 0 l-2.2 -5 l-2.3 5 z" fill="#3c3c3c" stroke="#222" stroke-width="0.5" opacity="0.9"/>
<line x1="67.3" y1="313.3" x2="67.3" y2="480.7" stroke="#111" stroke-width="1.50" stroke-dasharray="11.2 2.5"/>
<line x1="146.8" y1="314.0" x2="146.8" y2="480.7" stroke="#356a45" stroke-width="1.00" stroke-dasharray="12 5.5"/>
<line x1="825.0" y1="318.0" x2="825.0" y2="480.7" stroke="#356a45" stroke-width="1.00" stroke-dasharray="12 5.5"/>
<text x="65.4" y="374.0" font-size="5.45" fill="#1a1a1a" text-anchor="start" transform="rotate(-90 65.4 374.0)" stroke="#1a1a1a" stroke-width="0.2">LIMITE DE PROPRIETE</text>
<text x="54.0" y="473.6" font-size="5.45" fill="#1a1a1a" text-anchor="start" transform="rotate(-90 54.0 473.6)" stroke="#1a1a1a" stroke-width="0.2">PARCELLE MITOYENNE C1129</text>
<text x="823.0" y="352.0" font-size="5.30" fill="#2f7040" text-anchor="start" transform="rotate(-90 823.0 352.0)" >PROSPECT</text>
<text x="145.6" y="346.0" font-size="5.30" fill="#2f7040" text-anchor="start" transform="rotate(-90 145.6 346.0)" >PROSPECT</text>
<line x1="166.5" y1="311.0" x2="166.5" y2="400.0" stroke="#3a3a3a" stroke-width="0.90" />
<text x="167.0" y="314.6" font-size="5.60" fill="#1c1c1c" text-anchor="start" stroke="#1c1c1c" stroke-width="0.18">MENUISERIES</text>
<text x="167.0" y="321.2" font-size="5.60" fill="#1c1c1c" text-anchor="start" stroke="#1c1c1c" stroke-width="0.18">ALUMUNIUM</text>
<text x="167.0" y="327.8" font-size="5.60" fill="#1c1c1c" text-anchor="start" stroke="#1c1c1c" stroke-width="0.18">RAL 9005</text>
<line x1="283.5" y1="311.0" x2="283.5" y2="355.0" stroke="#3a3a3a" stroke-width="0.90" />
<text x="284.3" y="314.6" font-size="5.60" fill="#1c1c1c" text-anchor="start" stroke="#1c1c1c" stroke-width="0.18">RESILLE METALLIQUE</text>
<text x="284.3" y="321.2" font-size="5.60" fill="#1c1c1c" text-anchor="start" stroke="#1c1c1c" stroke-width="0.18">ACCROCHE SUR FACADE</text>
<text x="284.3" y="327.8" font-size="5.60" fill="#1c1c1c" text-anchor="start" stroke="#1c1c1c" stroke-width="0.18">RAL 7044</text>
<line x1="440.5" y1="311.0" x2="440.5" y2="355.0" stroke="#3a3a3a" stroke-width="0.90" />
<text x="441.0" y="314.6" font-size="5.60" fill="#1c1c1c" text-anchor="start" stroke="#1c1c1c" stroke-width="0.18">BAC ACIER</text>
<text x="441.0" y="321.2" font-size="5.60" fill="#1c1c1c" text-anchor="start" stroke="#1c1c1c" stroke-width="0.18">RAL 5008</text>
<line x1="551.5" y1="311.0" x2="551.5" y2="355.0" stroke="#3a3a3a" stroke-width="0.90" />
<text x="552.2" y="314.6" font-size="5.60" fill="#1c1c1c" text-anchor="start" stroke="#1c1c1c" stroke-width="0.18">TOITURE BAC ACIER</text>
<text x="552.2" y="321.2" font-size="5.60" fill="#1c1c1c" text-anchor="start" stroke="#1c1c1c" stroke-width="0.18">PENTE 8%</text>
<text x="552.2" y="327.8" font-size="5.60" fill="#1c1c1c" text-anchor="start" stroke="#1c1c1c" stroke-width="0.18">RAL 5008</text>
<text x="669.5" y="353.6" font-size="5.85" fill="#222" text-anchor="start" >+8.00</text>
<line x1="671.0" y1="354.7" x2="686.0" y2="354.7" stroke="#333" stroke-width="0.60" />
<text x="114.0" y="480.0" font-size="5.00" fill="#222" text-anchor="start" >TN=TP</text>
<text x="673.7" y="480.2" font-size="5.00" fill="#222" text-anchor="start" >TN=TP</text>
<path d="M140 128 L138 100 L150 90 L172 90 L182 102 L180 128 L200 150 L212 215 L205 235 L196 190 L195 250 L205 385 L215 393 L180 393 L165 265 L160 260 L130 385 L120 393 L92 393 L100 383 L125 250 L128 190 L118 235 L110 215 L117 150 Z" transform="translate(640.0 445.1) scale(0.0900)" fill="#fff" stroke="#111" stroke-width="9" stroke-linejoin="round"/>
<path d="M140 128 L138 100 L150 90 L172 90 L182 102 L180 128 L200 150 L212 215 L205 235 L196 190 L195 250 L205 385 L215 393 L180 393 L165 265 L160 260 L130 385 L120 393 L92 393 L100 383 L125 250 L128 190 L118 235 L110 215 L117 150 Z" transform="translate(857.7 180.6) scale(0.0900)" fill="#fff" stroke="#111" stroke-width="9" stroke-linejoin="round"/>
<g opacity="0.8">
<path d="M140 128 L138 100 L150 90 L172 90 L182 102 L180 128 L200 150 L212 215 L205 235 L196 190 L195 250 L205 385 L215 393 L180 393 L165 265 L160 260 L130 385 L120 393 L92 393 L100 383 L125 250 L128 190 L118 235 L110 215 L117 150 Z" transform="translate(539.2 181.9) scale(0.0870)" fill="none" stroke="#2b3990" stroke-width="9" stroke-linejoin="round"/>
</g>
<g transform="translate(740.0 445.1) scale(0.1111)">
<path d="M95 240 L100 215 L130 200 L260 180 L380 130 L450 120 L540 122 L640 160 L720 178 L740 190 L738 250 L725 275 L650 285 L180 285 L110 275 Z" fill="#555" stroke="#2a2a2a" stroke-width="8" stroke-linejoin="round"/>
<path d="M300 190 L385 140 L450 134 L545 135 L592 180 Z" fill="#8e8e8e" stroke="#2a2a2a" stroke-width="6"/>
<path d="M287 196 L582 188 L572 262 L292 268 Z" fill="#8a8a8a" stroke="#2a2a2a" stroke-width="5"/>
<line x1="447" y1="134" x2="445" y2="266" stroke="#2a2a2a" stroke-width="6"/>
<circle cx="225" cy="277" r="43" fill="#3c3c3c"/><circle cx="225" cy="277" r="23" fill="#8c8c8c"/>
<circle cx="610" cy="277" r="43" fill="#3c3c3c"/><circle cx="610" cy="277" r="23" fill="#8c8c8c"/>
</g>
<rect x="890.6" y="0" width="10" height="500" fill="#fff"/>
<rect x="34" y="0" width="2.4" height="1.3" fill="#d55"/><rect x="234" y="0" width="2.4" height="1.3" fill="#d55"/><rect x="853" y="0" width="2.4" height="1.2" fill="#d55"/>
</svg></body></html>
